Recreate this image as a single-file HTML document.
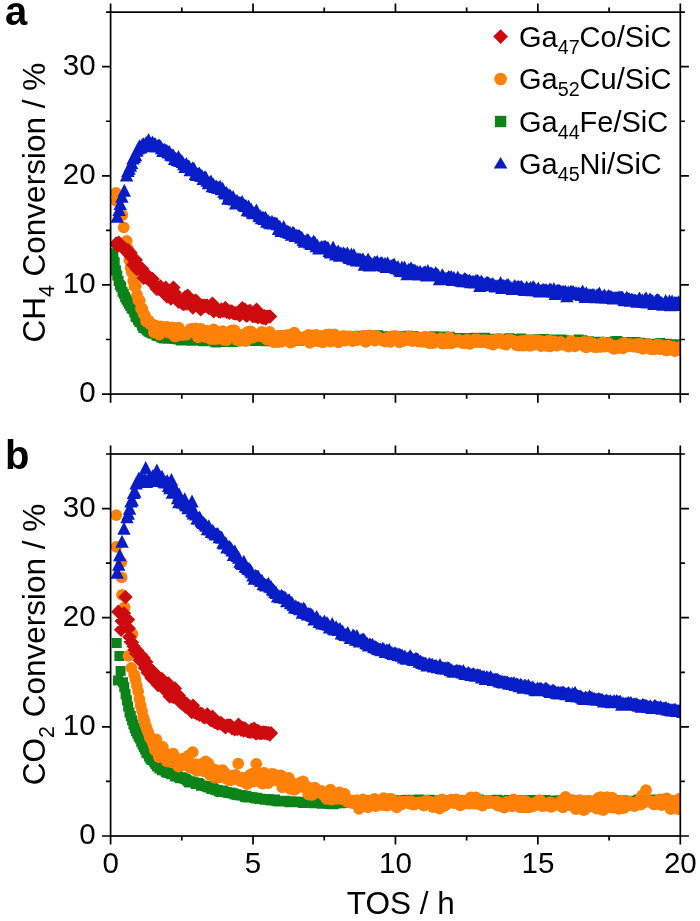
<!DOCTYPE html>
<html><head><meta charset="utf-8"><title>chart</title>
<style>html,body{margin:0;padding:0;background:#fff}svg{display:block;will-change:transform}</style></head>
<body><svg width="700" height="921" viewBox="0 0 700 921" font-family="Liberation Sans, sans-serif" fill="#000"><rect width="700" height="921" fill="#fff"/><defs><clipPath id="ca"><rect x="110.6" y="12.15" width="569.6999999999999" height="381.90000000000003"/></clipPath><clipPath id="cb"><rect x="110.6" y="454.0" width="569.6999999999999" height="382.0"/></clipPath></defs><g clip-path="url(#ca)"><path fill="#0c8318" d="M108.4 248.3h10.0v10.0h-10.0zM109.7 257.2h10.0v10.0h-10.0zM111.0 265.5h10.0v10.0h-10.0zM112.3 270.6h10.0v10.0h-10.0zM113.6 275.9h10.0v10.0h-10.0zM114.9 280.2h10.0v10.0h-10.0zM116.2 282.1h10.0v10.0h-10.0zM117.5 286.7h10.0v10.0h-10.0zM118.8 288.7h10.0v10.0h-10.0zM120.1 292.0h10.0v10.0h-10.0zM121.4 294.5h10.0v10.0h-10.0zM122.7 296.5h10.0v10.0h-10.0zM124.0 298.7h10.0v10.0h-10.0zM125.3 301.0h10.0v10.0h-10.0zM126.6 303.4h10.0v10.0h-10.0zM127.9 304.3h10.0v10.0h-10.0zM129.2 307.6h10.0v10.0h-10.0zM130.5 311.7h10.0v10.0h-10.0zM131.8 312.5h10.0v10.0h-10.0zM133.1 315.1h10.0v10.0h-10.0zM134.4 317.0h10.0v10.0h-10.0zM135.7 317.5h10.0v10.0h-10.0zM137.0 320.6h10.0v10.0h-10.0zM138.3 323.0h10.0v10.0h-10.0zM139.6 322.3h10.0v10.0h-10.0zM140.9 323.8h10.0v10.0h-10.0zM142.2 325.6h10.0v10.0h-10.0zM143.5 326.5h10.0v10.0h-10.0zM144.8 327.3h10.0v10.0h-10.0zM146.1 327.7h10.0v10.0h-10.0zM147.4 328.6h10.0v10.0h-10.0zM148.7 328.7h10.0v10.0h-10.0zM150.0 328.0h10.0v10.0h-10.0zM151.3 330.5h10.0v10.0h-10.0zM152.6 331.1h10.0v10.0h-10.0zM153.9 331.2h10.0v10.0h-10.0zM155.2 330.8h10.0v10.0h-10.0zM156.5 332.7h10.0v10.0h-10.0zM157.8 331.3h10.0v10.0h-10.0zM159.1 333.6h10.0v10.0h-10.0zM160.4 333.5h10.0v10.0h-10.0zM161.7 333.0h10.0v10.0h-10.0zM163.0 333.7h10.0v10.0h-10.0zM164.3 333.7h10.0v10.0h-10.0zM165.6 333.1h10.0v10.0h-10.0zM166.9 333.0h10.0v10.0h-10.0zM168.2 333.6h10.0v10.0h-10.0zM169.5 334.1h10.0v10.0h-10.0zM170.8 333.0h10.0v10.0h-10.0zM172.1 333.9h10.0v10.0h-10.0zM173.4 334.6h10.0v10.0h-10.0zM174.7 333.6h10.0v10.0h-10.0zM176.0 335.4h10.0v10.0h-10.0zM177.3 334.7h10.0v10.0h-10.0zM178.6 334.3h10.0v10.0h-10.0zM179.9 334.9h10.0v10.0h-10.0zM181.2 335.3h10.0v10.0h-10.0zM182.5 334.7h10.0v10.0h-10.0zM183.8 335.4h10.0v10.0h-10.0zM185.1 335.4h10.0v10.0h-10.0zM186.4 335.8h10.0v10.0h-10.0zM187.7 334.0h10.0v10.0h-10.0zM189.0 335.5h10.0v10.0h-10.0zM190.3 334.2h10.0v10.0h-10.0zM191.6 334.8h10.0v10.0h-10.0zM192.9 335.3h10.0v10.0h-10.0zM194.2 334.6h10.0v10.0h-10.0zM195.5 334.9h10.0v10.0h-10.0zM196.8 335.1h10.0v10.0h-10.0zM198.1 336.3h10.0v10.0h-10.0zM199.4 335.2h10.0v10.0h-10.0zM200.7 334.6h10.0v10.0h-10.0zM202.0 334.9h10.0v10.0h-10.0zM203.3 334.5h10.0v10.0h-10.0zM204.6 334.2h10.0v10.0h-10.0zM205.9 335.0h10.0v10.0h-10.0zM207.2 333.9h10.0v10.0h-10.0zM208.5 336.5h10.0v10.0h-10.0zM209.8 335.6h10.0v10.0h-10.0zM211.1 337.4h10.0v10.0h-10.0zM212.4 334.8h10.0v10.0h-10.0zM213.7 335.4h10.0v10.0h-10.0zM215.0 334.2h10.0v10.0h-10.0zM216.3 335.8h10.0v10.0h-10.0zM217.6 337.1h10.0v10.0h-10.0zM218.9 334.6h10.0v10.0h-10.0zM220.2 336.6h10.0v10.0h-10.0zM221.5 336.5h10.0v10.0h-10.0zM222.8 335.7h10.0v10.0h-10.0zM224.1 335.1h10.0v10.0h-10.0zM225.4 336.0h10.0v10.0h-10.0zM226.6 335.4h10.0v10.0h-10.0zM227.9 337.0h10.0v10.0h-10.0zM229.2 334.2h10.0v10.0h-10.0zM230.5 335.6h10.0v10.0h-10.0zM231.8 335.4h10.0v10.0h-10.0zM233.1 335.1h10.0v10.0h-10.0zM234.4 335.4h10.0v10.0h-10.0zM235.7 335.4h10.0v10.0h-10.0zM237.0 336.2h10.0v10.0h-10.0zM238.3 335.6h10.0v10.0h-10.0zM239.6 335.2h10.0v10.0h-10.0zM240.9 334.7h10.0v10.0h-10.0zM242.2 335.6h10.0v10.0h-10.0zM243.5 335.4h10.0v10.0h-10.0zM244.8 335.2h10.0v10.0h-10.0zM246.1 335.0h10.0v10.0h-10.0zM247.4 335.3h10.0v10.0h-10.0zM248.7 335.7h10.0v10.0h-10.0zM250.0 335.9h10.0v10.0h-10.0zM251.3 334.6h10.0v10.0h-10.0zM252.6 335.2h10.0v10.0h-10.0zM253.9 335.4h10.0v10.0h-10.0zM255.2 332.8h10.0v10.0h-10.0zM256.5 334.8h10.0v10.0h-10.0zM257.8 334.8h10.0v10.0h-10.0zM259.1 335.3h10.0v10.0h-10.0zM260.4 336.2h10.0v10.0h-10.0zM261.7 334.6h10.0v10.0h-10.0zM263.0 335.5h10.0v10.0h-10.0zM264.3 335.4h10.0v10.0h-10.0zM265.6 334.6h10.0v10.0h-10.0zM266.9 334.6h10.0v10.0h-10.0zM268.2 335.2h10.0v10.0h-10.0zM269.5 335.4h10.0v10.0h-10.0zM270.8 333.8h10.0v10.0h-10.0zM272.1 334.9h10.0v10.0h-10.0zM273.4 336.2h10.0v10.0h-10.0zM274.7 334.8h10.0v10.0h-10.0zM276.0 335.3h10.0v10.0h-10.0zM277.3 335.3h10.0v10.0h-10.0zM278.6 334.7h10.0v10.0h-10.0zM279.9 335.0h10.0v10.0h-10.0zM281.2 333.6h10.0v10.0h-10.0zM282.5 334.9h10.0v10.0h-10.0zM283.8 334.8h10.0v10.0h-10.0zM285.1 334.1h10.0v10.0h-10.0zM286.4 335.3h10.0v10.0h-10.0zM287.7 334.0h10.0v10.0h-10.0zM289.0 334.8h10.0v10.0h-10.0zM290.3 333.8h10.0v10.0h-10.0zM291.6 335.3h10.0v10.0h-10.0zM292.9 334.2h10.0v10.0h-10.0zM294.2 335.7h10.0v10.0h-10.0zM295.5 334.8h10.0v10.0h-10.0zM296.8 334.3h10.0v10.0h-10.0zM298.1 333.9h10.0v10.0h-10.0zM299.4 332.7h10.0v10.0h-10.0zM300.7 332.8h10.0v10.0h-10.0zM302.0 335.1h10.0v10.0h-10.0zM303.3 334.6h10.0v10.0h-10.0zM304.6 333.0h10.0v10.0h-10.0zM305.9 333.5h10.0v10.0h-10.0zM307.2 334.8h10.0v10.0h-10.0zM308.5 333.3h10.0v10.0h-10.0zM309.8 334.4h10.0v10.0h-10.0zM311.1 334.1h10.0v10.0h-10.0zM312.4 334.3h10.0v10.0h-10.0zM313.7 333.5h10.0v10.0h-10.0zM315.0 331.5h10.0v10.0h-10.0zM316.3 332.8h10.0v10.0h-10.0zM317.6 333.1h10.0v10.0h-10.0zM318.9 331.0h10.0v10.0h-10.0zM320.2 333.1h10.0v10.0h-10.0zM321.5 332.8h10.0v10.0h-10.0zM322.8 332.8h10.0v10.0h-10.0zM324.1 332.2h10.0v10.0h-10.0zM325.4 332.6h10.0v10.0h-10.0zM326.7 331.2h10.0v10.0h-10.0zM328.0 332.4h10.0v10.0h-10.0zM329.3 331.7h10.0v10.0h-10.0zM330.6 331.8h10.0v10.0h-10.0zM331.9 332.5h10.0v10.0h-10.0zM333.2 332.5h10.0v10.0h-10.0zM334.5 331.8h10.0v10.0h-10.0zM335.8 333.5h10.0v10.0h-10.0zM337.1 331.8h10.0v10.0h-10.0zM338.4 331.7h10.0v10.0h-10.0zM339.7 331.7h10.0v10.0h-10.0zM341.0 331.8h10.0v10.0h-10.0zM342.3 331.5h10.0v10.0h-10.0zM343.6 332.0h10.0v10.0h-10.0zM344.9 331.3h10.0v10.0h-10.0zM346.2 333.0h10.0v10.0h-10.0zM347.4 331.1h10.0v10.0h-10.0zM348.7 332.4h10.0v10.0h-10.0zM350.0 331.4h10.0v10.0h-10.0zM351.3 332.1h10.0v10.0h-10.0zM352.6 332.1h10.0v10.0h-10.0zM353.9 332.4h10.0v10.0h-10.0zM355.2 330.7h10.0v10.0h-10.0zM356.5 332.6h10.0v10.0h-10.0zM357.8 332.7h10.0v10.0h-10.0zM359.1 331.6h10.0v10.0h-10.0zM360.4 331.6h10.0v10.0h-10.0zM361.7 331.7h10.0v10.0h-10.0zM363.0 332.5h10.0v10.0h-10.0zM364.3 332.3h10.0v10.0h-10.0zM365.6 331.1h10.0v10.0h-10.0zM366.9 332.6h10.0v10.0h-10.0zM368.2 331.3h10.0v10.0h-10.0zM369.5 331.2h10.0v10.0h-10.0zM370.8 331.7h10.0v10.0h-10.0zM372.1 332.7h10.0v10.0h-10.0zM373.4 330.3h10.0v10.0h-10.0zM374.7 331.7h10.0v10.0h-10.0zM376.0 331.6h10.0v10.0h-10.0zM377.3 332.0h10.0v10.0h-10.0zM378.6 332.5h10.0v10.0h-10.0zM379.9 332.0h10.0v10.0h-10.0zM381.2 331.6h10.0v10.0h-10.0zM382.5 332.4h10.0v10.0h-10.0zM383.8 331.7h10.0v10.0h-10.0zM385.1 330.9h10.0v10.0h-10.0zM386.4 331.4h10.0v10.0h-10.0zM387.7 331.8h10.0v10.0h-10.0zM389.0 331.0h10.0v10.0h-10.0zM390.3 331.1h10.0v10.0h-10.0zM391.6 331.1h10.0v10.0h-10.0zM392.9 332.4h10.0v10.0h-10.0zM394.2 333.2h10.0v10.0h-10.0zM395.5 331.3h10.0v10.0h-10.0zM396.8 331.9h10.0v10.0h-10.0zM398.1 332.2h10.0v10.0h-10.0zM399.4 331.6h10.0v10.0h-10.0zM400.7 332.4h10.0v10.0h-10.0zM402.0 332.5h10.0v10.0h-10.0zM403.3 330.7h10.0v10.0h-10.0zM404.6 333.3h10.0v10.0h-10.0zM405.9 331.5h10.0v10.0h-10.0zM407.2 331.4h10.0v10.0h-10.0zM408.5 330.9h10.0v10.0h-10.0zM409.8 332.1h10.0v10.0h-10.0zM411.1 331.9h10.0v10.0h-10.0zM412.4 333.0h10.0v10.0h-10.0zM413.7 332.3h10.0v10.0h-10.0zM415.0 334.0h10.0v10.0h-10.0zM416.3 332.8h10.0v10.0h-10.0zM417.6 332.5h10.0v10.0h-10.0zM418.9 332.6h10.0v10.0h-10.0zM420.2 332.9h10.0v10.0h-10.0zM421.5 331.7h10.0v10.0h-10.0zM422.8 333.8h10.0v10.0h-10.0zM424.1 332.5h10.0v10.0h-10.0zM425.4 332.9h10.0v10.0h-10.0zM426.7 332.6h10.0v10.0h-10.0zM428.0 332.7h10.0v10.0h-10.0zM429.3 331.3h10.0v10.0h-10.0zM430.6 333.6h10.0v10.0h-10.0zM431.9 331.8h10.0v10.0h-10.0zM433.2 331.8h10.0v10.0h-10.0zM434.5 333.0h10.0v10.0h-10.0zM435.8 333.4h10.0v10.0h-10.0zM437.1 333.9h10.0v10.0h-10.0zM438.4 333.6h10.0v10.0h-10.0zM439.7 331.4h10.0v10.0h-10.0zM441.0 334.7h10.0v10.0h-10.0zM442.3 332.7h10.0v10.0h-10.0zM443.6 333.6h10.0v10.0h-10.0zM444.9 331.7h10.0v10.0h-10.0zM446.2 332.9h10.0v10.0h-10.0zM447.5 334.2h10.0v10.0h-10.0zM448.8 333.6h10.0v10.0h-10.0zM450.1 333.1h10.0v10.0h-10.0zM451.4 333.2h10.0v10.0h-10.0zM452.7 334.1h10.0v10.0h-10.0zM454.0 333.6h10.0v10.0h-10.0zM455.3 333.8h10.0v10.0h-10.0zM456.6 333.1h10.0v10.0h-10.0zM457.9 333.3h10.0v10.0h-10.0zM459.2 333.3h10.0v10.0h-10.0zM460.5 334.0h10.0v10.0h-10.0zM461.8 333.0h10.0v10.0h-10.0zM463.1 334.1h10.0v10.0h-10.0zM464.4 334.3h10.0v10.0h-10.0zM465.7 334.0h10.0v10.0h-10.0zM466.9 334.0h10.0v10.0h-10.0zM468.2 334.0h10.0v10.0h-10.0zM469.5 335.3h10.0v10.0h-10.0zM470.8 332.8h10.0v10.0h-10.0zM472.1 333.4h10.0v10.0h-10.0zM473.4 332.9h10.0v10.0h-10.0zM474.7 334.3h10.0v10.0h-10.0zM476.0 333.4h10.0v10.0h-10.0zM477.3 333.9h10.0v10.0h-10.0zM478.6 334.1h10.0v10.0h-10.0zM479.9 332.8h10.0v10.0h-10.0zM481.2 334.6h10.0v10.0h-10.0zM482.5 333.8h10.0v10.0h-10.0zM483.8 335.5h10.0v10.0h-10.0zM485.1 333.8h10.0v10.0h-10.0zM486.4 334.4h10.0v10.0h-10.0zM487.7 335.1h10.0v10.0h-10.0zM489.0 334.8h10.0v10.0h-10.0zM490.3 336.0h10.0v10.0h-10.0zM491.6 335.3h10.0v10.0h-10.0zM492.9 334.4h10.0v10.0h-10.0zM494.2 336.5h10.0v10.0h-10.0zM495.5 333.7h10.0v10.0h-10.0zM496.8 333.9h10.0v10.0h-10.0zM498.1 335.2h10.0v10.0h-10.0zM499.4 335.8h10.0v10.0h-10.0zM500.7 335.8h10.0v10.0h-10.0zM502.0 335.7h10.0v10.0h-10.0zM503.3 335.4h10.0v10.0h-10.0zM504.6 333.2h10.0v10.0h-10.0zM505.9 335.7h10.0v10.0h-10.0zM507.2 334.3h10.0v10.0h-10.0zM508.5 334.0h10.0v10.0h-10.0zM509.8 335.7h10.0v10.0h-10.0zM511.1 335.2h10.0v10.0h-10.0zM512.4 334.5h10.0v10.0h-10.0zM513.7 335.6h10.0v10.0h-10.0zM515.0 334.2h10.0v10.0h-10.0zM516.3 333.5h10.0v10.0h-10.0zM517.6 335.2h10.0v10.0h-10.0zM518.9 335.9h10.0v10.0h-10.0zM520.2 334.8h10.0v10.0h-10.0zM521.5 335.1h10.0v10.0h-10.0zM522.8 335.9h10.0v10.0h-10.0zM524.1 335.5h10.0v10.0h-10.0zM525.4 335.4h10.0v10.0h-10.0zM526.7 335.1h10.0v10.0h-10.0zM528.0 334.6h10.0v10.0h-10.0zM529.3 335.9h10.0v10.0h-10.0zM530.6 336.6h10.0v10.0h-10.0zM531.9 336.8h10.0v10.0h-10.0zM533.2 334.2h10.0v10.0h-10.0zM534.5 336.0h10.0v10.0h-10.0zM535.8 336.0h10.0v10.0h-10.0zM537.1 333.9h10.0v10.0h-10.0zM538.4 334.9h10.0v10.0h-10.0zM539.7 334.1h10.0v10.0h-10.0zM541.0 336.0h10.0v10.0h-10.0zM542.3 336.4h10.0v10.0h-10.0zM543.6 336.3h10.0v10.0h-10.0zM544.9 335.5h10.0v10.0h-10.0zM546.2 335.7h10.0v10.0h-10.0zM547.5 335.8h10.0v10.0h-10.0zM548.8 334.4h10.0v10.0h-10.0zM550.1 335.1h10.0v10.0h-10.0zM551.4 337.0h10.0v10.0h-10.0zM552.7 335.9h10.0v10.0h-10.0zM554.0 335.8h10.0v10.0h-10.0zM555.3 336.8h10.0v10.0h-10.0zM556.6 334.6h10.0v10.0h-10.0zM557.9 335.7h10.0v10.0h-10.0zM559.2 335.2h10.0v10.0h-10.0zM560.5 336.8h10.0v10.0h-10.0zM561.8 337.3h10.0v10.0h-10.0zM563.1 335.9h10.0v10.0h-10.0zM564.4 336.7h10.0v10.0h-10.0zM565.7 337.0h10.0v10.0h-10.0zM567.0 336.7h10.0v10.0h-10.0zM568.3 336.5h10.0v10.0h-10.0zM569.6 336.6h10.0v10.0h-10.0zM570.9 336.9h10.0v10.0h-10.0zM572.2 336.4h10.0v10.0h-10.0zM573.5 334.6h10.0v10.0h-10.0zM574.8 335.9h10.0v10.0h-10.0zM576.1 337.2h10.0v10.0h-10.0zM577.4 335.3h10.0v10.0h-10.0zM578.7 337.3h10.0v10.0h-10.0zM580.0 338.1h10.0v10.0h-10.0zM581.3 338.0h10.0v10.0h-10.0zM582.6 338.6h10.0v10.0h-10.0zM583.9 336.2h10.0v10.0h-10.0zM585.2 337.9h10.0v10.0h-10.0zM586.4 338.2h10.0v10.0h-10.0zM587.7 337.6h10.0v10.0h-10.0zM589.0 337.4h10.0v10.0h-10.0zM590.3 338.2h10.0v10.0h-10.0zM591.6 337.7h10.0v10.0h-10.0zM592.9 337.3h10.0v10.0h-10.0zM594.2 336.8h10.0v10.0h-10.0zM595.5 338.1h10.0v10.0h-10.0zM596.8 337.0h10.0v10.0h-10.0zM598.1 337.3h10.0v10.0h-10.0zM599.4 337.1h10.0v10.0h-10.0zM600.7 337.9h10.0v10.0h-10.0zM602.0 338.4h10.0v10.0h-10.0zM603.3 336.9h10.0v10.0h-10.0zM604.6 337.2h10.0v10.0h-10.0zM605.9 338.2h10.0v10.0h-10.0zM607.2 338.3h10.0v10.0h-10.0zM608.5 337.2h10.0v10.0h-10.0zM609.8 336.2h10.0v10.0h-10.0zM611.1 337.5h10.0v10.0h-10.0zM612.4 335.9h10.0v10.0h-10.0zM613.7 337.6h10.0v10.0h-10.0zM615.0 337.6h10.0v10.0h-10.0zM616.3 337.6h10.0v10.0h-10.0zM617.6 337.1h10.0v10.0h-10.0zM618.9 339.2h10.0v10.0h-10.0zM620.2 338.0h10.0v10.0h-10.0zM621.5 337.2h10.0v10.0h-10.0zM622.8 339.4h10.0v10.0h-10.0zM624.1 338.1h10.0v10.0h-10.0zM625.4 337.7h10.0v10.0h-10.0zM626.7 337.0h10.0v10.0h-10.0zM628.0 337.2h10.0v10.0h-10.0zM629.3 338.5h10.0v10.0h-10.0zM630.6 336.9h10.0v10.0h-10.0zM631.9 339.4h10.0v10.0h-10.0zM633.2 339.7h10.0v10.0h-10.0zM634.5 337.7h10.0v10.0h-10.0zM635.8 338.2h10.0v10.0h-10.0zM637.1 339.7h10.0v10.0h-10.0zM638.4 338.0h10.0v10.0h-10.0zM639.7 338.3h10.0v10.0h-10.0zM641.0 338.4h10.0v10.0h-10.0zM642.3 339.4h10.0v10.0h-10.0zM643.6 340.1h10.0v10.0h-10.0zM644.9 340.5h10.0v10.0h-10.0zM646.2 339.4h10.0v10.0h-10.0zM647.5 339.4h10.0v10.0h-10.0zM648.8 339.7h10.0v10.0h-10.0zM650.1 339.8h10.0v10.0h-10.0zM651.4 338.7h10.0v10.0h-10.0zM652.7 340.4h10.0v10.0h-10.0zM654.0 340.1h10.0v10.0h-10.0zM655.3 338.1h10.0v10.0h-10.0zM656.6 340.2h10.0v10.0h-10.0zM657.9 340.2h10.0v10.0h-10.0zM659.2 339.0h10.0v10.0h-10.0zM660.5 341.2h10.0v10.0h-10.0zM661.8 338.7h10.0v10.0h-10.0zM663.1 340.9h10.0v10.0h-10.0zM664.4 340.7h10.0v10.0h-10.0zM665.7 341.1h10.0v10.0h-10.0zM667.0 340.9h10.0v10.0h-10.0zM668.3 340.8h10.0v10.0h-10.0zM669.6 339.5h10.0v10.0h-10.0zM670.9 340.4h10.0v10.0h-10.0zM672.2 339.3h10.0v10.0h-10.0zM673.5 339.8h10.0v10.0h-10.0zM674.8 341.4h10.0v10.0h-10.0zM676.1 340.5h10.0v10.0h-10.0zM677.4 341.0h10.0v10.0h-10.0z"/><g fill="#ff8108"><circle cx="116.0" cy="193.0" r="5.9"/><circle cx="116.3" cy="200.9" r="5.9"/><circle cx="122.3" cy="215.1" r="5.9"/><circle cx="123.7" cy="227.3" r="5.9"/><circle cx="126.7" cy="240.8" r="5.9"/><circle cx="128.0" cy="248.8" r="5.9"/><circle cx="129.3" cy="259.9" r="5.9"/><circle cx="130.6" cy="267.5" r="5.9"/><circle cx="131.9" cy="272.4" r="5.9"/><circle cx="133.2" cy="281.0" r="5.9"/><circle cx="134.5" cy="286.3" r="5.9"/><circle cx="135.8" cy="285.9" r="5.9"/><circle cx="137.1" cy="295.0" r="5.9"/><circle cx="138.4" cy="300.4" r="5.9"/><circle cx="139.7" cy="300.7" r="5.9"/><circle cx="141.0" cy="308.5" r="5.9"/><circle cx="142.3" cy="308.8" r="5.9"/><circle cx="143.6" cy="313.8" r="5.9"/><circle cx="144.9" cy="315.4" r="5.9"/><circle cx="146.2" cy="321.3" r="5.9"/><circle cx="147.5" cy="320.8" r="5.9"/><circle cx="148.8" cy="320.7" r="5.9"/><circle cx="150.1" cy="324.2" r="5.9"/><circle cx="151.4" cy="324.0" r="5.9"/><circle cx="152.7" cy="325.7" r="5.9"/><circle cx="154.0" cy="332.3" r="5.9"/><circle cx="155.3" cy="325.5" r="5.9"/><circle cx="156.6" cy="327.8" r="5.9"/><circle cx="157.9" cy="331.3" r="5.9"/><circle cx="159.2" cy="334.6" r="5.9"/><circle cx="160.5" cy="326.4" r="5.9"/><circle cx="161.8" cy="331.0" r="5.9"/><circle cx="163.1" cy="328.6" r="5.9"/><circle cx="164.4" cy="327.1" r="5.9"/><circle cx="165.7" cy="328.9" r="5.9"/><circle cx="167.0" cy="326.9" r="5.9"/><circle cx="168.3" cy="332.6" r="5.9"/><circle cx="169.6" cy="328.5" r="5.9"/><circle cx="170.9" cy="332.3" r="5.9"/><circle cx="172.2" cy="327.3" r="5.9"/><circle cx="173.5" cy="328.1" r="5.9"/><circle cx="174.8" cy="336.4" r="5.9"/><circle cx="176.1" cy="336.1" r="5.9"/><circle cx="177.4" cy="335.4" r="5.9"/><circle cx="178.7" cy="327.7" r="5.9"/><circle cx="179.9" cy="333.4" r="5.9"/><circle cx="181.2" cy="331.6" r="5.9"/><circle cx="182.5" cy="335.1" r="5.9"/><circle cx="183.8" cy="333.0" r="5.9"/><circle cx="185.1" cy="334.3" r="5.9"/><circle cx="186.4" cy="334.7" r="5.9"/><circle cx="187.7" cy="332.4" r="5.9"/><circle cx="189.0" cy="332.4" r="5.9"/><circle cx="190.3" cy="329.1" r="5.9"/><circle cx="191.6" cy="331.5" r="5.9"/><circle cx="192.9" cy="329.0" r="5.9"/><circle cx="194.2" cy="329.8" r="5.9"/><circle cx="195.5" cy="328.5" r="5.9"/><circle cx="196.8" cy="331.9" r="5.9"/><circle cx="198.1" cy="337.3" r="5.9"/><circle cx="199.4" cy="330.1" r="5.9"/><circle cx="200.7" cy="329.0" r="5.9"/><circle cx="202.0" cy="329.7" r="5.9"/><circle cx="203.3" cy="333.3" r="5.9"/><circle cx="204.6" cy="331.9" r="5.9"/><circle cx="205.9" cy="337.2" r="5.9"/><circle cx="207.2" cy="330.8" r="5.9"/><circle cx="208.5" cy="333.5" r="5.9"/><circle cx="209.8" cy="336.6" r="5.9"/><circle cx="211.1" cy="339.0" r="5.9"/><circle cx="212.4" cy="330.8" r="5.9"/><circle cx="213.7" cy="329.4" r="5.9"/><circle cx="215.0" cy="339.0" r="5.9"/><circle cx="216.3" cy="331.6" r="5.9"/><circle cx="217.6" cy="335.7" r="5.9"/><circle cx="218.9" cy="338.5" r="5.9"/><circle cx="220.2" cy="337.1" r="5.9"/><circle cx="221.5" cy="332.2" r="5.9"/><circle cx="222.8" cy="331.1" r="5.9"/><circle cx="224.1" cy="339.9" r="5.9"/><circle cx="225.4" cy="334.0" r="5.9"/><circle cx="226.7" cy="340.0" r="5.9"/><circle cx="228.0" cy="333.0" r="5.9"/><circle cx="229.3" cy="337.1" r="5.9"/><circle cx="230.6" cy="331.4" r="5.9"/><circle cx="231.9" cy="330.4" r="5.9"/><circle cx="233.2" cy="335.4" r="5.9"/><circle cx="234.5" cy="330.3" r="5.9"/><circle cx="235.8" cy="337.6" r="5.9"/><circle cx="237.1" cy="340.0" r="5.9"/><circle cx="238.4" cy="334.6" r="5.9"/><circle cx="239.7" cy="340.6" r="5.9"/><circle cx="241.0" cy="338.9" r="5.9"/><circle cx="242.3" cy="336.8" r="5.9"/><circle cx="243.6" cy="334.7" r="5.9"/><circle cx="244.9" cy="339.5" r="5.9"/><circle cx="246.2" cy="340.8" r="5.9"/><circle cx="247.5" cy="332.2" r="5.9"/><circle cx="248.8" cy="338.0" r="5.9"/><circle cx="250.1" cy="331.3" r="5.9"/><circle cx="251.4" cy="332.0" r="5.9"/><circle cx="252.7" cy="337.5" r="5.9"/><circle cx="254.0" cy="336.7" r="5.9"/><circle cx="255.3" cy="336.1" r="5.9"/><circle cx="256.6" cy="334.8" r="5.9"/><circle cx="257.9" cy="335.4" r="5.9"/><circle cx="259.2" cy="335.8" r="5.9"/><circle cx="260.5" cy="335.2" r="5.9"/><circle cx="261.8" cy="331.9" r="5.9"/><circle cx="263.1" cy="336.5" r="5.9"/><circle cx="264.4" cy="337.4" r="5.9"/><circle cx="265.7" cy="334.4" r="5.9"/><circle cx="267.0" cy="339.5" r="5.9"/><circle cx="268.3" cy="338.9" r="5.9"/><circle cx="269.6" cy="331.8" r="5.9"/><circle cx="270.9" cy="336.7" r="5.9"/><circle cx="272.2" cy="336.4" r="5.9"/><circle cx="273.5" cy="342.1" r="5.9"/><circle cx="274.8" cy="337.9" r="5.9"/><circle cx="276.1" cy="336.3" r="5.9"/><circle cx="277.4" cy="342.2" r="5.9"/><circle cx="278.7" cy="336.0" r="5.9"/><circle cx="280.0" cy="335.9" r="5.9"/><circle cx="281.3" cy="341.9" r="5.9"/><circle cx="282.6" cy="336.0" r="5.9"/><circle cx="283.9" cy="337.7" r="5.9"/><circle cx="285.2" cy="335.5" r="5.9"/><circle cx="286.5" cy="338.9" r="5.9"/><circle cx="287.8" cy="335.3" r="5.9"/><circle cx="289.1" cy="335.0" r="5.9"/><circle cx="290.4" cy="342.5" r="5.9"/><circle cx="291.7" cy="342.1" r="5.9"/><circle cx="293.0" cy="335.7" r="5.9"/><circle cx="294.3" cy="332.7" r="5.9"/><circle cx="295.6" cy="340.2" r="5.9"/><circle cx="296.9" cy="338.1" r="5.9"/><circle cx="298.2" cy="336.7" r="5.9"/><circle cx="299.4" cy="339.5" r="5.9"/><circle cx="300.7" cy="339.1" r="5.9"/><circle cx="302.0" cy="339.7" r="5.9"/><circle cx="303.3" cy="339.1" r="5.9"/><circle cx="304.6" cy="336.8" r="5.9"/><circle cx="305.9" cy="339.9" r="5.9"/><circle cx="307.2" cy="339.1" r="5.9"/><circle cx="308.5" cy="335.0" r="5.9"/><circle cx="309.8" cy="342.8" r="5.9"/><circle cx="311.1" cy="337.2" r="5.9"/><circle cx="312.4" cy="335.4" r="5.9"/><circle cx="313.7" cy="339.9" r="5.9"/><circle cx="315.0" cy="340.9" r="5.9"/><circle cx="316.3" cy="334.8" r="5.9"/><circle cx="317.6" cy="340.7" r="5.9"/><circle cx="318.9" cy="341.3" r="5.9"/><circle cx="320.2" cy="338.7" r="5.9"/><circle cx="321.5" cy="336.0" r="5.9"/><circle cx="322.8" cy="342.3" r="5.9"/><circle cx="324.1" cy="340.0" r="5.9"/><circle cx="325.4" cy="339.9" r="5.9"/><circle cx="326.7" cy="334.7" r="5.9"/><circle cx="328.0" cy="338.8" r="5.9"/><circle cx="329.3" cy="334.5" r="5.9"/><circle cx="330.6" cy="341.7" r="5.9"/><circle cx="331.9" cy="340.0" r="5.9"/><circle cx="333.2" cy="336.7" r="5.9"/><circle cx="334.5" cy="334.3" r="5.9"/><circle cx="335.8" cy="338.9" r="5.9"/><circle cx="337.1" cy="341.3" r="5.9"/><circle cx="338.4" cy="342.4" r="5.9"/><circle cx="339.7" cy="338.2" r="5.9"/><circle cx="341.0" cy="340.5" r="5.9"/><circle cx="342.3" cy="336.4" r="5.9"/><circle cx="343.6" cy="336.2" r="5.9"/><circle cx="344.9" cy="340.5" r="5.9"/><circle cx="346.2" cy="339.9" r="5.9"/><circle cx="347.5" cy="336.5" r="5.9"/><circle cx="348.8" cy="337.6" r="5.9"/><circle cx="350.1" cy="336.5" r="5.9"/><circle cx="351.4" cy="339.5" r="5.9"/><circle cx="352.7" cy="341.0" r="5.9"/><circle cx="354.0" cy="339.9" r="5.9"/><circle cx="355.3" cy="336.6" r="5.9"/><circle cx="356.6" cy="340.1" r="5.9"/><circle cx="357.9" cy="339.6" r="5.9"/><circle cx="359.2" cy="339.1" r="5.9"/><circle cx="360.5" cy="339.1" r="5.9"/><circle cx="361.8" cy="339.2" r="5.9"/><circle cx="363.1" cy="335.9" r="5.9"/><circle cx="364.4" cy="340.9" r="5.9"/><circle cx="365.7" cy="341.9" r="5.9"/><circle cx="367.0" cy="335.8" r="5.9"/><circle cx="368.3" cy="336.2" r="5.9"/><circle cx="369.6" cy="335.5" r="5.9"/><circle cx="370.9" cy="339.1" r="5.9"/><circle cx="372.2" cy="335.8" r="5.9"/><circle cx="373.5" cy="335.9" r="5.9"/><circle cx="374.8" cy="340.6" r="5.9"/><circle cx="376.1" cy="337.2" r="5.9"/><circle cx="377.4" cy="336.6" r="5.9"/><circle cx="378.7" cy="337.7" r="5.9"/><circle cx="380.0" cy="338.7" r="5.9"/><circle cx="381.3" cy="340.2" r="5.9"/><circle cx="382.6" cy="339.9" r="5.9"/><circle cx="383.9" cy="340.6" r="5.9"/><circle cx="385.2" cy="341.7" r="5.9"/><circle cx="386.5" cy="338.3" r="5.9"/><circle cx="387.8" cy="340.3" r="5.9"/><circle cx="389.1" cy="336.9" r="5.9"/><circle cx="390.4" cy="341.9" r="5.9"/><circle cx="391.7" cy="336.3" r="5.9"/><circle cx="393.0" cy="337.7" r="5.9"/><circle cx="394.3" cy="336.2" r="5.9"/><circle cx="395.6" cy="336.4" r="5.9"/><circle cx="396.9" cy="336.4" r="5.9"/><circle cx="398.2" cy="338.5" r="5.9"/><circle cx="399.5" cy="342.3" r="5.9"/><circle cx="400.8" cy="337.5" r="5.9"/><circle cx="402.1" cy="341.3" r="5.9"/><circle cx="403.4" cy="340.5" r="5.9"/><circle cx="404.7" cy="338.1" r="5.9"/><circle cx="406.0" cy="339.1" r="5.9"/><circle cx="407.3" cy="339.9" r="5.9"/><circle cx="408.6" cy="336.4" r="5.9"/><circle cx="409.9" cy="338.6" r="5.9"/><circle cx="411.2" cy="340.4" r="5.9"/><circle cx="412.5" cy="341.1" r="5.9"/><circle cx="413.8" cy="337.1" r="5.9"/><circle cx="415.1" cy="339.7" r="5.9"/><circle cx="416.4" cy="337.7" r="5.9"/><circle cx="417.7" cy="340.6" r="5.9"/><circle cx="419.0" cy="341.6" r="5.9"/><circle cx="420.2" cy="339.4" r="5.9"/><circle cx="421.5" cy="337.6" r="5.9"/><circle cx="422.8" cy="341.9" r="5.9"/><circle cx="424.1" cy="337.9" r="5.9"/><circle cx="425.4" cy="337.0" r="5.9"/><circle cx="426.7" cy="337.8" r="5.9"/><circle cx="428.0" cy="337.8" r="5.9"/><circle cx="429.3" cy="343.1" r="5.9"/><circle cx="430.6" cy="339.1" r="5.9"/><circle cx="431.9" cy="337.6" r="5.9"/><circle cx="433.2" cy="343.0" r="5.9"/><circle cx="434.5" cy="341.6" r="5.9"/><circle cx="435.8" cy="341.6" r="5.9"/><circle cx="437.1" cy="340.0" r="5.9"/><circle cx="438.4" cy="340.7" r="5.9"/><circle cx="439.7" cy="340.4" r="5.9"/><circle cx="441.0" cy="338.4" r="5.9"/><circle cx="442.3" cy="343.6" r="5.9"/><circle cx="443.6" cy="343.2" r="5.9"/><circle cx="444.9" cy="342.8" r="5.9"/><circle cx="446.2" cy="342.9" r="5.9"/><circle cx="447.5" cy="343.3" r="5.9"/><circle cx="448.8" cy="337.4" r="5.9"/><circle cx="450.1" cy="338.2" r="5.9"/><circle cx="451.4" cy="343.3" r="5.9"/><circle cx="452.7" cy="340.6" r="5.9"/><circle cx="454.0" cy="341.8" r="5.9"/><circle cx="455.3" cy="341.9" r="5.9"/><circle cx="456.6" cy="341.7" r="5.9"/><circle cx="457.9" cy="339.8" r="5.9"/><circle cx="459.2" cy="340.2" r="5.9"/><circle cx="460.5" cy="341.7" r="5.9"/><circle cx="461.8" cy="342.9" r="5.9"/><circle cx="463.1" cy="342.0" r="5.9"/><circle cx="464.4" cy="343.4" r="5.9"/><circle cx="465.7" cy="340.6" r="5.9"/><circle cx="467.0" cy="339.6" r="5.9"/><circle cx="468.3" cy="341.8" r="5.9"/><circle cx="469.6" cy="343.8" r="5.9"/><circle cx="470.9" cy="343.2" r="5.9"/><circle cx="472.2" cy="342.0" r="5.9"/><circle cx="473.5" cy="340.5" r="5.9"/><circle cx="474.8" cy="339.4" r="5.9"/><circle cx="476.1" cy="342.0" r="5.9"/><circle cx="477.4" cy="339.3" r="5.9"/><circle cx="478.7" cy="340.5" r="5.9"/><circle cx="480.0" cy="341.8" r="5.9"/><circle cx="481.3" cy="342.2" r="5.9"/><circle cx="482.6" cy="341.5" r="5.9"/><circle cx="483.9" cy="340.2" r="5.9"/><circle cx="485.2" cy="342.0" r="5.9"/><circle cx="486.5" cy="340.3" r="5.9"/><circle cx="487.8" cy="341.9" r="5.9"/><circle cx="489.1" cy="343.3" r="5.9"/><circle cx="490.4" cy="341.4" r="5.9"/><circle cx="491.7" cy="340.4" r="5.9"/><circle cx="493.0" cy="344.6" r="5.9"/><circle cx="494.3" cy="342.3" r="5.9"/><circle cx="495.6" cy="342.3" r="5.9"/><circle cx="496.9" cy="339.4" r="5.9"/><circle cx="498.2" cy="339.0" r="5.9"/><circle cx="499.5" cy="342.8" r="5.9"/><circle cx="500.8" cy="339.4" r="5.9"/><circle cx="502.1" cy="340.1" r="5.9"/><circle cx="503.4" cy="343.6" r="5.9"/><circle cx="504.7" cy="342.3" r="5.9"/><circle cx="506.0" cy="344.6" r="5.9"/><circle cx="507.3" cy="340.1" r="5.9"/><circle cx="508.6" cy="341.1" r="5.9"/><circle cx="509.9" cy="339.7" r="5.9"/><circle cx="511.2" cy="340.4" r="5.9"/><circle cx="512.5" cy="341.2" r="5.9"/><circle cx="513.8" cy="340.8" r="5.9"/><circle cx="515.1" cy="342.0" r="5.9"/><circle cx="516.4" cy="345.0" r="5.9"/><circle cx="517.7" cy="341.9" r="5.9"/><circle cx="519.0" cy="345.7" r="5.9"/><circle cx="520.3" cy="344.9" r="5.9"/><circle cx="521.6" cy="340.8" r="5.9"/><circle cx="522.9" cy="345.6" r="5.9"/><circle cx="524.2" cy="345.3" r="5.9"/><circle cx="525.5" cy="345.3" r="5.9"/><circle cx="526.8" cy="340.2" r="5.9"/><circle cx="528.1" cy="344.9" r="5.9"/><circle cx="529.4" cy="345.9" r="5.9"/><circle cx="530.7" cy="340.6" r="5.9"/><circle cx="532.0" cy="345.3" r="5.9"/><circle cx="533.3" cy="340.7" r="5.9"/><circle cx="534.6" cy="341.8" r="5.9"/><circle cx="535.9" cy="340.8" r="5.9"/><circle cx="537.2" cy="340.1" r="5.9"/><circle cx="538.5" cy="342.5" r="5.9"/><circle cx="539.7" cy="341.1" r="5.9"/><circle cx="541.0" cy="346.2" r="5.9"/><circle cx="542.3" cy="341.4" r="5.9"/><circle cx="543.6" cy="343.1" r="5.9"/><circle cx="544.9" cy="341.8" r="5.9"/><circle cx="546.2" cy="345.9" r="5.9"/><circle cx="547.5" cy="341.7" r="5.9"/><circle cx="548.8" cy="340.5" r="5.9"/><circle cx="550.1" cy="346.3" r="5.9"/><circle cx="551.4" cy="344.6" r="5.9"/><circle cx="552.7" cy="343.0" r="5.9"/><circle cx="554.0" cy="341.4" r="5.9"/><circle cx="555.3" cy="345.2" r="5.9"/><circle cx="556.6" cy="345.7" r="5.9"/><circle cx="557.9" cy="345.3" r="5.9"/><circle cx="559.2" cy="342.9" r="5.9"/><circle cx="560.5" cy="342.0" r="5.9"/><circle cx="561.8" cy="344.4" r="5.9"/><circle cx="563.1" cy="344.6" r="5.9"/><circle cx="564.4" cy="344.5" r="5.9"/><circle cx="565.7" cy="344.8" r="5.9"/><circle cx="567.0" cy="344.4" r="5.9"/><circle cx="568.3" cy="346.7" r="5.9"/><circle cx="569.6" cy="344.0" r="5.9"/><circle cx="570.9" cy="340.9" r="5.9"/><circle cx="572.2" cy="344.7" r="5.9"/><circle cx="573.5" cy="342.5" r="5.9"/><circle cx="574.8" cy="346.4" r="5.9"/><circle cx="576.1" cy="343.0" r="5.9"/><circle cx="577.4" cy="342.6" r="5.9"/><circle cx="578.7" cy="343.2" r="5.9"/><circle cx="580.0" cy="344.3" r="5.9"/><circle cx="581.3" cy="344.5" r="5.9"/><circle cx="582.6" cy="343.5" r="5.9"/><circle cx="583.9" cy="341.9" r="5.9"/><circle cx="585.2" cy="346.9" r="5.9"/><circle cx="586.5" cy="347.3" r="5.9"/><circle cx="587.8" cy="343.1" r="5.9"/><circle cx="589.1" cy="342.0" r="5.9"/><circle cx="590.4" cy="344.7" r="5.9"/><circle cx="591.7" cy="345.2" r="5.9"/><circle cx="593.0" cy="343.4" r="5.9"/><circle cx="594.3" cy="347.0" r="5.9"/><circle cx="595.6" cy="346.5" r="5.9"/><circle cx="596.9" cy="347.0" r="5.9"/><circle cx="598.2" cy="344.5" r="5.9"/><circle cx="599.5" cy="346.3" r="5.9"/><circle cx="600.8" cy="346.9" r="5.9"/><circle cx="602.1" cy="344.0" r="5.9"/><circle cx="603.4" cy="342.3" r="5.9"/><circle cx="604.7" cy="346.7" r="5.9"/><circle cx="606.0" cy="344.0" r="5.9"/><circle cx="607.3" cy="346.0" r="5.9"/><circle cx="608.6" cy="343.2" r="5.9"/><circle cx="609.9" cy="345.0" r="5.9"/><circle cx="611.2" cy="347.1" r="5.9"/><circle cx="612.5" cy="347.5" r="5.9"/><circle cx="613.8" cy="348.8" r="5.9"/><circle cx="615.1" cy="345.9" r="5.9"/><circle cx="616.4" cy="346.5" r="5.9"/><circle cx="617.7" cy="348.0" r="5.9"/><circle cx="619.0" cy="346.8" r="5.9"/><circle cx="620.3" cy="347.1" r="5.9"/><circle cx="621.6" cy="344.2" r="5.9"/><circle cx="622.9" cy="348.4" r="5.9"/><circle cx="624.2" cy="342.9" r="5.9"/><circle cx="625.5" cy="346.3" r="5.9"/><circle cx="626.8" cy="345.5" r="5.9"/><circle cx="628.1" cy="346.4" r="5.9"/><circle cx="629.4" cy="344.1" r="5.9"/><circle cx="630.7" cy="344.2" r="5.9"/><circle cx="632.0" cy="346.0" r="5.9"/><circle cx="633.3" cy="346.5" r="5.9"/><circle cx="634.6" cy="345.0" r="5.9"/><circle cx="635.9" cy="344.2" r="5.9"/><circle cx="637.2" cy="347.2" r="5.9"/><circle cx="638.5" cy="345.1" r="5.9"/><circle cx="639.8" cy="343.7" r="5.9"/><circle cx="641.1" cy="346.9" r="5.9"/><circle cx="642.4" cy="348.5" r="5.9"/><circle cx="643.7" cy="348.6" r="5.9"/><circle cx="645.0" cy="345.4" r="5.9"/><circle cx="646.3" cy="345.8" r="5.9"/><circle cx="647.6" cy="344.0" r="5.9"/><circle cx="648.9" cy="344.7" r="5.9"/><circle cx="650.2" cy="348.8" r="5.9"/><circle cx="651.5" cy="349.1" r="5.9"/><circle cx="652.8" cy="348.7" r="5.9"/><circle cx="654.1" cy="349.3" r="5.9"/><circle cx="655.4" cy="345.9" r="5.9"/><circle cx="656.7" cy="345.0" r="5.9"/><circle cx="658.0" cy="344.7" r="5.9"/><circle cx="659.2" cy="349.0" r="5.9"/><circle cx="660.5" cy="345.1" r="5.9"/><circle cx="661.8" cy="348.7" r="5.9"/><circle cx="663.1" cy="348.1" r="5.9"/><circle cx="664.4" cy="346.1" r="5.9"/><circle cx="665.7" cy="350.4" r="5.9"/><circle cx="667.0" cy="350.4" r="5.9"/><circle cx="668.3" cy="345.6" r="5.9"/><circle cx="669.6" cy="349.2" r="5.9"/><circle cx="670.9" cy="348.8" r="5.9"/><circle cx="672.2" cy="347.4" r="5.9"/><circle cx="673.5" cy="346.8" r="5.9"/><circle cx="674.8" cy="351.2" r="5.9"/><circle cx="676.1" cy="349.1" r="5.9"/><circle cx="677.4" cy="348.5" r="5.9"/><circle cx="678.7" cy="348.3" r="5.9"/><circle cx="680.0" cy="350.1" r="5.9"/><circle cx="681.3" cy="347.7" r="5.9"/><circle cx="682.6" cy="345.2" r="5.9"/></g><path fill="#cd0b0e" d="M116.3 236.3l7.2 7.2l-7.2 7.2l-7.2 -7.2zM117.6 238.5l7.2 7.2l-7.2 7.2l-7.2 -7.2zM118.9 235.5l7.2 7.2l-7.2 7.2l-7.2 -7.2zM120.2 237.4l7.2 7.2l-7.2 7.2l-7.2 -7.2zM121.5 238.8l7.2 7.2l-7.2 7.2l-7.2 -7.2zM122.8 240.4l7.2 7.2l-7.2 7.2l-7.2 -7.2zM124.1 242.2l7.2 7.2l-7.2 7.2l-7.2 -7.2zM125.4 241.8l7.2 7.2l-7.2 7.2l-7.2 -7.2zM126.7 244.6l7.2 7.2l-7.2 7.2l-7.2 -7.2zM128.0 242.9l7.2 7.2l-7.2 7.2l-7.2 -7.2zM129.3 247.7l7.2 7.2l-7.2 7.2l-7.2 -7.2zM130.6 245.5l7.2 7.2l-7.2 7.2l-7.2 -7.2zM131.9 250.6l7.2 7.2l-7.2 7.2l-7.2 -7.2zM133.2 257.5l7.2 7.2l-7.2 7.2l-7.2 -7.2zM134.5 258.6l7.2 7.2l-7.2 7.2l-7.2 -7.2zM135.8 252.7l7.2 7.2l-7.2 7.2l-7.2 -7.2zM137.1 262.2l7.2 7.2l-7.2 7.2l-7.2 -7.2zM138.4 258.6l7.2 7.2l-7.2 7.2l-7.2 -7.2zM139.7 259.4l7.2 7.2l-7.2 7.2l-7.2 -7.2zM141.0 262.0l7.2 7.2l-7.2 7.2l-7.2 -7.2zM142.3 261.7l7.2 7.2l-7.2 7.2l-7.2 -7.2zM143.6 270.7l7.2 7.2l-7.2 7.2l-7.2 -7.2zM144.9 267.1l7.2 7.2l-7.2 7.2l-7.2 -7.2zM146.2 270.3l7.2 7.2l-7.2 7.2l-7.2 -7.2zM147.5 268.2l7.2 7.2l-7.2 7.2l-7.2 -7.2zM148.8 270.0l7.2 7.2l-7.2 7.2l-7.2 -7.2zM150.1 270.4l7.2 7.2l-7.2 7.2l-7.2 -7.2zM151.4 275.2l7.2 7.2l-7.2 7.2l-7.2 -7.2zM152.7 271.9l7.2 7.2l-7.2 7.2l-7.2 -7.2zM154.0 276.7l7.2 7.2l-7.2 7.2l-7.2 -7.2zM155.3 279.1l7.2 7.2l-7.2 7.2l-7.2 -7.2zM156.6 281.5l7.2 7.2l-7.2 7.2l-7.2 -7.2zM157.9 281.4l7.2 7.2l-7.2 7.2l-7.2 -7.2zM159.2 281.9l7.2 7.2l-7.2 7.2l-7.2 -7.2zM160.5 279.2l7.2 7.2l-7.2 7.2l-7.2 -7.2zM161.8 281.8l7.2 7.2l-7.2 7.2l-7.2 -7.2zM163.1 282.0l7.2 7.2l-7.2 7.2l-7.2 -7.2zM164.4 286.4l7.2 7.2l-7.2 7.2l-7.2 -7.2zM165.7 280.6l7.2 7.2l-7.2 7.2l-7.2 -7.2zM167.0 289.4l7.2 7.2l-7.2 7.2l-7.2 -7.2zM168.3 284.1l7.2 7.2l-7.2 7.2l-7.2 -7.2zM169.6 289.5l7.2 7.2l-7.2 7.2l-7.2 -7.2zM170.9 291.3l7.2 7.2l-7.2 7.2l-7.2 -7.2zM172.2 289.8l7.2 7.2l-7.2 7.2l-7.2 -7.2zM173.4 280.4l7.2 7.2l-7.2 7.2l-7.2 -7.2zM174.7 285.6l7.2 7.2l-7.2 7.2l-7.2 -7.2zM176.0 292.0l7.2 7.2l-7.2 7.2l-7.2 -7.2zM177.3 290.6l7.2 7.2l-7.2 7.2l-7.2 -7.2zM178.6 294.7l7.2 7.2l-7.2 7.2l-7.2 -7.2zM179.9 293.9l7.2 7.2l-7.2 7.2l-7.2 -7.2zM181.2 295.2l7.2 7.2l-7.2 7.2l-7.2 -7.2zM182.5 296.3l7.2 7.2l-7.2 7.2l-7.2 -7.2zM183.8 296.9l7.2 7.2l-7.2 7.2l-7.2 -7.2zM185.1 290.1l7.2 7.2l-7.2 7.2l-7.2 -7.2zM186.4 296.4l7.2 7.2l-7.2 7.2l-7.2 -7.2zM187.7 288.6l7.2 7.2l-7.2 7.2l-7.2 -7.2zM189.0 294.1l7.2 7.2l-7.2 7.2l-7.2 -7.2zM190.3 294.0l7.2 7.2l-7.2 7.2l-7.2 -7.2zM191.6 299.1l7.2 7.2l-7.2 7.2l-7.2 -7.2zM192.9 300.4l7.2 7.2l-7.2 7.2l-7.2 -7.2zM194.2 294.2l7.2 7.2l-7.2 7.2l-7.2 -7.2zM195.5 293.5l7.2 7.2l-7.2 7.2l-7.2 -7.2zM196.8 294.2l7.2 7.2l-7.2 7.2l-7.2 -7.2zM198.1 298.1l7.2 7.2l-7.2 7.2l-7.2 -7.2zM199.4 296.7l7.2 7.2l-7.2 7.2l-7.2 -7.2zM200.7 302.2l7.2 7.2l-7.2 7.2l-7.2 -7.2zM202.0 298.7l7.2 7.2l-7.2 7.2l-7.2 -7.2zM203.3 298.5l7.2 7.2l-7.2 7.2l-7.2 -7.2zM204.6 298.8l7.2 7.2l-7.2 7.2l-7.2 -7.2zM205.9 298.6l7.2 7.2l-7.2 7.2l-7.2 -7.2zM207.2 298.6l7.2 7.2l-7.2 7.2l-7.2 -7.2zM208.5 300.6l7.2 7.2l-7.2 7.2l-7.2 -7.2zM209.8 300.7l7.2 7.2l-7.2 7.2l-7.2 -7.2zM211.1 300.9l7.2 7.2l-7.2 7.2l-7.2 -7.2zM212.4 296.4l7.2 7.2l-7.2 7.2l-7.2 -7.2zM213.7 304.0l7.2 7.2l-7.2 7.2l-7.2 -7.2zM215.0 302.2l7.2 7.2l-7.2 7.2l-7.2 -7.2zM216.3 302.3l7.2 7.2l-7.2 7.2l-7.2 -7.2zM217.6 301.9l7.2 7.2l-7.2 7.2l-7.2 -7.2zM218.9 304.0l7.2 7.2l-7.2 7.2l-7.2 -7.2zM220.2 304.4l7.2 7.2l-7.2 7.2l-7.2 -7.2zM221.5 302.2l7.2 7.2l-7.2 7.2l-7.2 -7.2zM222.8 303.6l7.2 7.2l-7.2 7.2l-7.2 -7.2zM224.1 303.4l7.2 7.2l-7.2 7.2l-7.2 -7.2zM225.4 300.8l7.2 7.2l-7.2 7.2l-7.2 -7.2zM226.7 304.7l7.2 7.2l-7.2 7.2l-7.2 -7.2zM228.0 304.4l7.2 7.2l-7.2 7.2l-7.2 -7.2zM229.3 305.5l7.2 7.2l-7.2 7.2l-7.2 -7.2zM230.6 304.3l7.2 7.2l-7.2 7.2l-7.2 -7.2zM231.9 304.3l7.2 7.2l-7.2 7.2l-7.2 -7.2zM233.2 305.9l7.2 7.2l-7.2 7.2l-7.2 -7.2zM234.5 306.0l7.2 7.2l-7.2 7.2l-7.2 -7.2zM235.8 306.1l7.2 7.2l-7.2 7.2l-7.2 -7.2zM237.1 306.0l7.2 7.2l-7.2 7.2l-7.2 -7.2zM238.4 306.0l7.2 7.2l-7.2 7.2l-7.2 -7.2zM239.7 308.2l7.2 7.2l-7.2 7.2l-7.2 -7.2zM241.0 306.9l7.2 7.2l-7.2 7.2l-7.2 -7.2zM242.3 300.9l7.2 7.2l-7.2 7.2l-7.2 -7.2zM243.6 303.6l7.2 7.2l-7.2 7.2l-7.2 -7.2zM244.9 302.4l7.2 7.2l-7.2 7.2l-7.2 -7.2zM246.2 308.3l7.2 7.2l-7.2 7.2l-7.2 -7.2zM247.5 308.1l7.2 7.2l-7.2 7.2l-7.2 -7.2zM248.8 304.2l7.2 7.2l-7.2 7.2l-7.2 -7.2zM250.1 303.7l7.2 7.2l-7.2 7.2l-7.2 -7.2zM251.4 306.8l7.2 7.2l-7.2 7.2l-7.2 -7.2zM252.7 308.9l7.2 7.2l-7.2 7.2l-7.2 -7.2zM254.0 308.7l7.2 7.2l-7.2 7.2l-7.2 -7.2zM255.3 308.8l7.2 7.2l-7.2 7.2l-7.2 -7.2zM256.6 302.5l7.2 7.2l-7.2 7.2l-7.2 -7.2zM257.9 310.0l7.2 7.2l-7.2 7.2l-7.2 -7.2zM259.2 305.3l7.2 7.2l-7.2 7.2l-7.2 -7.2zM260.5 308.8l7.2 7.2l-7.2 7.2l-7.2 -7.2zM261.8 310.3l7.2 7.2l-7.2 7.2l-7.2 -7.2zM263.1 310.6l7.2 7.2l-7.2 7.2l-7.2 -7.2zM264.4 309.0l7.2 7.2l-7.2 7.2l-7.2 -7.2zM265.7 311.4l7.2 7.2l-7.2 7.2l-7.2 -7.2zM267.0 309.4l7.2 7.2l-7.2 7.2l-7.2 -7.2zM268.3 309.4l7.2 7.2l-7.2 7.2l-7.2 -7.2zM270.1 309.2l7.2 7.2l-7.2 7.2l-7.2 -7.2z"/><path fill="#081dc6" d="M117.2 209.7l6.7 13.0h-13.4zM119.1 203.1l6.7 13.0h-13.4zM120.2 197.1l6.7 13.0h-13.4zM121.9 189.8l6.7 13.0h-13.4zM124.3 183.7l6.7 13.0h-13.4zM126.6 168.4l6.7 13.0h-13.4zM127.9 163.9l6.7 13.0h-13.4zM129.1 161.8l6.7 13.0h-13.4zM130.4 158.8l6.7 13.0h-13.4zM131.7 156.2l6.7 13.0h-13.4zM133.0 151.5l6.7 13.0h-13.4zM134.3 150.1l6.7 13.0h-13.4zM135.6 148.3l6.7 13.0h-13.4zM136.9 143.7l6.7 13.0h-13.4zM138.2 141.6l6.7 13.0h-13.4zM139.5 139.2l6.7 13.0h-13.4zM140.8 140.5l6.7 13.0h-13.4zM142.1 138.1l6.7 13.0h-13.4zM143.4 137.2l6.7 13.0h-13.4zM144.7 139.3l6.7 13.0h-13.4zM146.0 136.0l6.7 13.0h-13.4zM147.3 136.1l6.7 13.0h-13.4zM148.6 133.1l6.7 13.0h-13.4zM149.9 136.7l6.7 13.0h-13.4zM151.2 137.5l6.7 13.0h-13.4zM152.5 135.6l6.7 13.0h-13.4zM153.8 137.6l6.7 13.0h-13.4zM155.1 137.0l6.7 13.0h-13.4zM156.4 139.4l6.7 13.0h-13.4zM157.7 139.0l6.7 13.0h-13.4zM159.0 138.3l6.7 13.0h-13.4zM160.3 139.6l6.7 13.0h-13.4zM161.6 141.3l6.7 13.0h-13.4zM162.9 144.0l6.7 13.0h-13.4zM164.2 142.5l6.7 13.0h-13.4zM165.5 143.9l6.7 13.0h-13.4zM166.8 143.7l6.7 13.0h-13.4zM168.1 145.4l6.7 13.0h-13.4zM169.4 145.0l6.7 13.0h-13.4zM170.7 147.6l6.7 13.0h-13.4zM172.0 148.2l6.7 13.0h-13.4zM173.3 148.4l6.7 13.0h-13.4zM174.6 152.0l6.7 13.0h-13.4zM175.9 151.8l6.7 13.0h-13.4zM177.2 152.9l6.7 13.0h-13.4zM178.5 150.0l6.7 13.0h-13.4zM179.8 154.1l6.7 13.0h-13.4zM181.1 153.9l6.7 13.0h-13.4zM182.4 154.9l6.7 13.0h-13.4zM183.7 157.2l6.7 13.0h-13.4zM185.0 160.0l6.7 13.0h-13.4zM186.3 157.1l6.7 13.0h-13.4zM187.6 160.1l6.7 13.0h-13.4zM188.9 159.3l6.7 13.0h-13.4zM190.2 163.3l6.7 13.0h-13.4zM191.5 162.9l6.7 13.0h-13.4zM192.8 161.3l6.7 13.0h-13.4zM194.1 161.9l6.7 13.0h-13.4zM195.4 167.0l6.7 13.0h-13.4zM196.7 168.0l6.7 13.0h-13.4zM198.0 166.9l6.7 13.0h-13.4zM199.3 166.6l6.7 13.0h-13.4zM200.6 168.4l6.7 13.0h-13.4zM201.9 169.1l6.7 13.0h-13.4zM203.2 171.9l6.7 13.0h-13.4zM204.5 170.4l6.7 13.0h-13.4zM205.8 170.5l6.7 13.0h-13.4zM207.1 173.8l6.7 13.0h-13.4zM208.4 176.2l6.7 13.0h-13.4zM209.7 176.1l6.7 13.0h-13.4zM211.0 174.6l6.7 13.0h-13.4zM212.3 179.3l6.7 13.0h-13.4zM213.6 177.7l6.7 13.0h-13.4zM214.9 180.0l6.7 13.0h-13.4zM216.2 179.6l6.7 13.0h-13.4zM217.5 180.6l6.7 13.0h-13.4zM218.8 181.1l6.7 13.0h-13.4zM220.1 179.8l6.7 13.0h-13.4zM221.4 182.3l6.7 13.0h-13.4zM222.7 181.8l6.7 13.0h-13.4zM224.0 185.0l6.7 13.0h-13.4zM225.3 186.4l6.7 13.0h-13.4zM226.6 185.9l6.7 13.0h-13.4zM227.9 191.7l6.7 13.0h-13.4zM229.2 188.3l6.7 13.0h-13.4zM230.5 188.9l6.7 13.0h-13.4zM231.8 191.9l6.7 13.0h-13.4zM233.1 190.1l6.7 13.0h-13.4zM234.4 192.6l6.7 13.0h-13.4zM235.7 196.4l6.7 13.0h-13.4zM237.0 193.8l6.7 13.0h-13.4zM238.3 195.8l6.7 13.0h-13.4zM239.6 196.0l6.7 13.0h-13.4zM240.9 196.3l6.7 13.0h-13.4zM242.2 195.0l6.7 13.0h-13.4zM243.5 197.7l6.7 13.0h-13.4zM244.8 198.7l6.7 13.0h-13.4zM246.1 199.0l6.7 13.0h-13.4zM247.4 203.2l6.7 13.0h-13.4zM248.6 199.4l6.7 13.0h-13.4zM249.9 203.8l6.7 13.0h-13.4zM251.2 202.4l6.7 13.0h-13.4zM252.5 205.6l6.7 13.0h-13.4zM253.8 206.2l6.7 13.0h-13.4zM255.1 206.1l6.7 13.0h-13.4zM256.4 203.4l6.7 13.0h-13.4zM257.7 206.1l6.7 13.0h-13.4zM259.0 208.8l6.7 13.0h-13.4zM260.3 209.2l6.7 13.0h-13.4zM261.6 211.3l6.7 13.0h-13.4zM262.9 210.4l6.7 13.0h-13.4zM264.2 212.0l6.7 13.0h-13.4zM265.5 210.8l6.7 13.0h-13.4zM266.8 214.8l6.7 13.0h-13.4zM268.1 214.0l6.7 13.0h-13.4zM269.4 215.6l6.7 13.0h-13.4zM270.7 216.2l6.7 13.0h-13.4zM272.0 214.8l6.7 13.0h-13.4zM273.3 216.5l6.7 13.0h-13.4zM274.6 216.6l6.7 13.0h-13.4zM275.9 216.5l6.7 13.0h-13.4zM277.2 217.3l6.7 13.0h-13.4zM278.5 222.0l6.7 13.0h-13.4zM279.8 219.8l6.7 13.0h-13.4zM281.1 224.1l6.7 13.0h-13.4zM282.4 222.2l6.7 13.0h-13.4zM283.7 219.9l6.7 13.0h-13.4zM285.0 223.7l6.7 13.0h-13.4zM286.3 224.7l6.7 13.0h-13.4zM287.6 224.5l6.7 13.0h-13.4zM288.9 225.4l6.7 13.0h-13.4zM290.2 226.0l6.7 13.0h-13.4zM291.5 227.8l6.7 13.0h-13.4zM292.8 225.7l6.7 13.0h-13.4zM294.1 226.6l6.7 13.0h-13.4zM295.4 228.9l6.7 13.0h-13.4zM296.7 228.8l6.7 13.0h-13.4zM298.0 228.9l6.7 13.0h-13.4zM299.3 229.0l6.7 13.0h-13.4zM300.6 230.6l6.7 13.0h-13.4zM301.9 230.8l6.7 13.0h-13.4zM303.2 232.9l6.7 13.0h-13.4zM304.5 234.8l6.7 13.0h-13.4zM305.8 234.5l6.7 13.0h-13.4zM307.1 232.9l6.7 13.0h-13.4zM308.4 233.6l6.7 13.0h-13.4zM309.7 235.5l6.7 13.0h-13.4zM311.0 237.1l6.7 13.0h-13.4zM312.3 236.3l6.7 13.0h-13.4zM313.6 234.7l6.7 13.0h-13.4zM314.9 235.7l6.7 13.0h-13.4zM316.2 239.3l6.7 13.0h-13.4zM317.5 238.8l6.7 13.0h-13.4zM318.8 241.5l6.7 13.0h-13.4zM320.1 241.5l6.7 13.0h-13.4zM321.4 240.0l6.7 13.0h-13.4zM322.7 240.7l6.7 13.0h-13.4zM324.0 239.8l6.7 13.0h-13.4zM325.3 239.8l6.7 13.0h-13.4zM326.6 241.0l6.7 13.0h-13.4zM327.9 240.7l6.7 13.0h-13.4zM329.2 244.1l6.7 13.0h-13.4zM330.5 245.5l6.7 13.0h-13.4zM331.8 243.5l6.7 13.0h-13.4zM333.1 240.6l6.7 13.0h-13.4zM334.4 244.7l6.7 13.0h-13.4zM335.7 247.5l6.7 13.0h-13.4zM337.0 245.8l6.7 13.0h-13.4zM338.3 244.5l6.7 13.0h-13.4zM339.6 248.7l6.7 13.0h-13.4zM340.9 246.3l6.7 13.0h-13.4zM342.2 248.8l6.7 13.0h-13.4zM343.5 246.3l6.7 13.0h-13.4zM344.8 247.4l6.7 13.0h-13.4zM346.1 248.5l6.7 13.0h-13.4zM347.4 246.3l6.7 13.0h-13.4zM348.7 250.3l6.7 13.0h-13.4zM350.0 251.1l6.7 13.0h-13.4zM351.3 247.6l6.7 13.0h-13.4zM352.6 252.2l6.7 13.0h-13.4zM353.9 247.9l6.7 13.0h-13.4zM355.2 251.6l6.7 13.0h-13.4zM356.5 253.5l6.7 13.0h-13.4zM357.8 252.3l6.7 13.0h-13.4zM359.1 252.5l6.7 13.0h-13.4zM360.4 252.8l6.7 13.0h-13.4zM361.7 253.7l6.7 13.0h-13.4zM363.0 252.2l6.7 13.0h-13.4zM364.3 257.7l6.7 13.0h-13.4zM365.6 255.4l6.7 13.0h-13.4zM366.9 255.3l6.7 13.0h-13.4zM368.1 252.4l6.7 13.0h-13.4zM369.4 258.5l6.7 13.0h-13.4zM370.7 256.2l6.7 13.0h-13.4zM372.0 257.7l6.7 13.0h-13.4zM373.3 257.2l6.7 13.0h-13.4zM374.6 255.5l6.7 13.0h-13.4zM375.9 256.1l6.7 13.0h-13.4zM377.2 254.7l6.7 13.0h-13.4zM378.5 258.1l6.7 13.0h-13.4zM379.8 257.0l6.7 13.0h-13.4zM381.1 255.9l6.7 13.0h-13.4zM382.4 256.6l6.7 13.0h-13.4zM383.7 258.7l6.7 13.0h-13.4zM385.0 256.7l6.7 13.0h-13.4zM386.3 260.1l6.7 13.0h-13.4zM387.6 256.2l6.7 13.0h-13.4zM388.9 258.9l6.7 13.0h-13.4zM390.2 259.6l6.7 13.0h-13.4zM391.5 259.3l6.7 13.0h-13.4zM392.8 258.6l6.7 13.0h-13.4zM394.1 257.5l6.7 13.0h-13.4zM395.4 260.6l6.7 13.0h-13.4zM396.7 261.3l6.7 13.0h-13.4zM398.0 260.1l6.7 13.0h-13.4zM399.3 262.6l6.7 13.0h-13.4zM400.6 264.1l6.7 13.0h-13.4zM401.9 260.5l6.7 13.0h-13.4zM403.2 262.6l6.7 13.0h-13.4zM404.5 260.6l6.7 13.0h-13.4zM405.8 264.2l6.7 13.0h-13.4zM407.1 267.3l6.7 13.0h-13.4zM408.4 262.7l6.7 13.0h-13.4zM409.7 263.2l6.7 13.0h-13.4zM411.0 261.3l6.7 13.0h-13.4zM412.3 263.2l6.7 13.0h-13.4zM413.6 263.8l6.7 13.0h-13.4zM414.9 263.6l6.7 13.0h-13.4zM416.2 265.4l6.7 13.0h-13.4zM417.5 265.0l6.7 13.0h-13.4zM418.8 267.4l6.7 13.0h-13.4zM420.1 264.8l6.7 13.0h-13.4zM421.4 267.1l6.7 13.0h-13.4zM422.7 266.9l6.7 13.0h-13.4zM424.0 265.4l6.7 13.0h-13.4zM425.3 265.3l6.7 13.0h-13.4zM426.6 268.5l6.7 13.0h-13.4zM427.9 264.1l6.7 13.0h-13.4zM429.2 268.3l6.7 13.0h-13.4zM430.5 266.4l6.7 13.0h-13.4zM431.8 266.5l6.7 13.0h-13.4zM433.1 267.8l6.7 13.0h-13.4zM434.4 268.2l6.7 13.0h-13.4zM435.7 265.9l6.7 13.0h-13.4zM437.0 267.6l6.7 13.0h-13.4zM438.3 268.5l6.7 13.0h-13.4zM439.6 272.2l6.7 13.0h-13.4zM440.9 270.8l6.7 13.0h-13.4zM442.2 268.2l6.7 13.0h-13.4zM443.5 269.9l6.7 13.0h-13.4zM444.8 271.9l6.7 13.0h-13.4zM446.1 271.7l6.7 13.0h-13.4zM447.4 271.4l6.7 13.0h-13.4zM448.7 270.1l6.7 13.0h-13.4zM450.0 270.8l6.7 13.0h-13.4zM451.3 270.1l6.7 13.0h-13.4zM452.6 273.0l6.7 13.0h-13.4zM453.9 270.8l6.7 13.0h-13.4zM455.2 273.0l6.7 13.0h-13.4zM456.5 273.0l6.7 13.0h-13.4zM457.8 270.5l6.7 13.0h-13.4zM459.1 272.9l6.7 13.0h-13.4zM460.4 273.4l6.7 13.0h-13.4zM461.7 273.8l6.7 13.0h-13.4zM463.0 274.2l6.7 13.0h-13.4zM464.3 271.9l6.7 13.0h-13.4zM465.6 272.4l6.7 13.0h-13.4zM466.9 273.4l6.7 13.0h-13.4zM468.2 274.4l6.7 13.0h-13.4zM469.5 273.5l6.7 13.0h-13.4zM470.8 275.2l6.7 13.0h-13.4zM472.1 274.7l6.7 13.0h-13.4zM473.4 275.0l6.7 13.0h-13.4zM474.7 275.6l6.7 13.0h-13.4zM476.0 273.8l6.7 13.0h-13.4zM477.3 273.9l6.7 13.0h-13.4zM478.6 274.7l6.7 13.0h-13.4zM479.9 279.1l6.7 13.0h-13.4zM481.2 274.4l6.7 13.0h-13.4zM482.5 276.1l6.7 13.0h-13.4zM483.8 277.7l6.7 13.0h-13.4zM485.1 277.3l6.7 13.0h-13.4zM486.4 275.9l6.7 13.0h-13.4zM487.7 276.0l6.7 13.0h-13.4zM488.9 276.6l6.7 13.0h-13.4zM490.2 277.7l6.7 13.0h-13.4zM491.5 278.0l6.7 13.0h-13.4zM492.8 277.1l6.7 13.0h-13.4zM494.1 278.4l6.7 13.0h-13.4zM495.4 279.6l6.7 13.0h-13.4zM496.7 279.4l6.7 13.0h-13.4zM498.0 279.0l6.7 13.0h-13.4zM499.3 278.5l6.7 13.0h-13.4zM500.6 276.1l6.7 13.0h-13.4zM501.9 281.0l6.7 13.0h-13.4zM503.2 278.7l6.7 13.0h-13.4zM504.5 279.6l6.7 13.0h-13.4zM505.8 279.3l6.7 13.0h-13.4zM507.1 278.0l6.7 13.0h-13.4zM508.4 278.3l6.7 13.0h-13.4zM509.7 280.3l6.7 13.0h-13.4zM511.0 281.0l6.7 13.0h-13.4zM512.3 282.1l6.7 13.0h-13.4zM513.6 280.6l6.7 13.0h-13.4zM514.9 279.0l6.7 13.0h-13.4zM516.2 281.1l6.7 13.0h-13.4zM517.5 279.9l6.7 13.0h-13.4zM518.8 280.0l6.7 13.0h-13.4zM520.1 280.6l6.7 13.0h-13.4zM521.4 279.8l6.7 13.0h-13.4zM522.7 281.5l6.7 13.0h-13.4zM524.0 282.6l6.7 13.0h-13.4zM525.3 283.1l6.7 13.0h-13.4zM526.6 280.5l6.7 13.0h-13.4zM527.9 282.3l6.7 13.0h-13.4zM529.2 282.4l6.7 13.0h-13.4zM530.5 281.0l6.7 13.0h-13.4zM531.8 283.3l6.7 13.0h-13.4zM533.1 280.0l6.7 13.0h-13.4zM534.4 281.6l6.7 13.0h-13.4zM535.7 283.3l6.7 13.0h-13.4zM537.0 283.5l6.7 13.0h-13.4zM538.3 281.4l6.7 13.0h-13.4zM539.6 284.5l6.7 13.0h-13.4zM540.9 283.9l6.7 13.0h-13.4zM542.2 283.2l6.7 13.0h-13.4zM543.5 283.1l6.7 13.0h-13.4zM544.8 283.4l6.7 13.0h-13.4zM546.1 283.1l6.7 13.0h-13.4zM547.4 284.2l6.7 13.0h-13.4zM548.7 284.0l6.7 13.0h-13.4zM550.0 282.3l6.7 13.0h-13.4zM551.3 283.2l6.7 13.0h-13.4zM552.6 284.8l6.7 13.0h-13.4zM553.9 282.1l6.7 13.0h-13.4zM555.2 287.1l6.7 13.0h-13.4zM556.5 284.5l6.7 13.0h-13.4zM557.8 283.8l6.7 13.0h-13.4zM559.1 283.6l6.7 13.0h-13.4zM560.4 284.8l6.7 13.0h-13.4zM561.7 285.6l6.7 13.0h-13.4zM563.0 284.4l6.7 13.0h-13.4zM564.3 285.6l6.7 13.0h-13.4zM565.6 284.8l6.7 13.0h-13.4zM566.9 289.3l6.7 13.0h-13.4zM568.2 285.2l6.7 13.0h-13.4zM569.5 286.9l6.7 13.0h-13.4zM570.8 284.7l6.7 13.0h-13.4zM572.1 285.1l6.7 13.0h-13.4zM573.4 285.2l6.7 13.0h-13.4zM574.7 286.9l6.7 13.0h-13.4zM576.0 285.9l6.7 13.0h-13.4zM577.3 287.0l6.7 13.0h-13.4zM578.6 286.4l6.7 13.0h-13.4zM579.9 287.0l6.7 13.0h-13.4zM581.2 288.1l6.7 13.0h-13.4zM582.5 284.5l6.7 13.0h-13.4zM583.8 286.2l6.7 13.0h-13.4zM585.1 290.0l6.7 13.0h-13.4zM586.4 286.3l6.7 13.0h-13.4zM587.7 289.4l6.7 13.0h-13.4zM589.0 288.0l6.7 13.0h-13.4zM590.3 288.6l6.7 13.0h-13.4zM591.6 288.6l6.7 13.0h-13.4zM592.9 287.8l6.7 13.0h-13.4zM594.2 288.6l6.7 13.0h-13.4zM595.5 290.2l6.7 13.0h-13.4zM596.8 288.5l6.7 13.0h-13.4zM598.1 288.1l6.7 13.0h-13.4zM599.4 286.5l6.7 13.0h-13.4zM600.7 289.5l6.7 13.0h-13.4zM602.0 290.6l6.7 13.0h-13.4zM603.3 289.7l6.7 13.0h-13.4zM604.6 288.5l6.7 13.0h-13.4zM605.9 290.7l6.7 13.0h-13.4zM607.2 290.6l6.7 13.0h-13.4zM608.4 289.1l6.7 13.0h-13.4zM609.7 290.0l6.7 13.0h-13.4zM611.0 289.8l6.7 13.0h-13.4zM612.3 291.1l6.7 13.0h-13.4zM613.6 291.5l6.7 13.0h-13.4zM614.9 291.0l6.7 13.0h-13.4zM616.2 290.9l6.7 13.0h-13.4zM617.5 291.3l6.7 13.0h-13.4zM618.8 290.4l6.7 13.0h-13.4zM620.1 290.4l6.7 13.0h-13.4zM621.4 290.6l6.7 13.0h-13.4zM622.7 290.8l6.7 13.0h-13.4zM624.0 292.8l6.7 13.0h-13.4zM625.3 293.2l6.7 13.0h-13.4zM626.6 290.8l6.7 13.0h-13.4zM627.9 292.0l6.7 13.0h-13.4zM629.2 291.9l6.7 13.0h-13.4zM630.5 293.7l6.7 13.0h-13.4zM631.8 292.6l6.7 13.0h-13.4zM633.1 293.3l6.7 13.0h-13.4zM634.4 293.7l6.7 13.0h-13.4zM635.7 293.5l6.7 13.0h-13.4zM637.0 294.8l6.7 13.0h-13.4zM638.3 292.9l6.7 13.0h-13.4zM639.6 291.6l6.7 13.0h-13.4zM640.9 294.1l6.7 13.0h-13.4zM642.2 293.2l6.7 13.0h-13.4zM643.5 294.9l6.7 13.0h-13.4zM644.8 292.7l6.7 13.0h-13.4zM646.1 291.3l6.7 13.0h-13.4zM647.4 295.5l6.7 13.0h-13.4zM648.7 294.3l6.7 13.0h-13.4zM650.0 292.2l6.7 13.0h-13.4zM651.3 293.7l6.7 13.0h-13.4zM652.6 294.2l6.7 13.0h-13.4zM653.9 297.1l6.7 13.0h-13.4zM655.2 294.8l6.7 13.0h-13.4zM656.5 293.5l6.7 13.0h-13.4zM657.8 293.0l6.7 13.0h-13.4zM659.1 294.1l6.7 13.0h-13.4zM660.4 295.8l6.7 13.0h-13.4zM661.7 296.1l6.7 13.0h-13.4zM663.0 297.7l6.7 13.0h-13.4zM664.3 296.9l6.7 13.0h-13.4zM665.6 294.1l6.7 13.0h-13.4zM666.9 295.9l6.7 13.0h-13.4zM668.2 297.6l6.7 13.0h-13.4zM669.5 294.2l6.7 13.0h-13.4zM670.8 298.3l6.7 13.0h-13.4zM672.1 294.5l6.7 13.0h-13.4zM673.4 296.7l6.7 13.0h-13.4zM674.7 296.0l6.7 13.0h-13.4zM676.0 295.7l6.7 13.0h-13.4zM677.3 296.4l6.7 13.0h-13.4zM678.6 295.2l6.7 13.0h-13.4zM679.9 296.9l6.7 13.0h-13.4zM681.2 297.4l6.7 13.0h-13.4zM682.5 297.9l6.7 13.0h-13.4z"/></g><g clip-path="url(#cb)"><path fill="#0c8318" d="M111.7 638.0h10.0v10.0h-10.0zM114.4 650.9h10.0v10.0h-10.0zM115.6 665.9h10.0v10.0h-10.0zM113.0 675.6h10.0v10.0h-10.0zM118.0 677.2h10.0v10.0h-10.0zM119.3 682.2h10.0v10.0h-10.0zM120.6 689.2h10.0v10.0h-10.0zM121.9 695.3h10.0v10.0h-10.0zM123.2 701.5h10.0v10.0h-10.0zM124.5 707.4h10.0v10.0h-10.0zM125.8 711.1h10.0v10.0h-10.0zM127.1 715.3h10.0v10.0h-10.0zM128.4 719.5h10.0v10.0h-10.0zM129.7 722.9h10.0v10.0h-10.0zM131.0 726.3h10.0v10.0h-10.0zM132.3 728.7h10.0v10.0h-10.0zM133.6 731.5h10.0v10.0h-10.0zM134.9 733.5h10.0v10.0h-10.0zM136.2 736.7h10.0v10.0h-10.0zM137.5 739.5h10.0v10.0h-10.0zM138.8 741.9h10.0v10.0h-10.0zM140.1 744.5h10.0v10.0h-10.0zM141.4 747.8h10.0v10.0h-10.0zM142.7 748.5h10.0v10.0h-10.0zM144.0 751.6h10.0v10.0h-10.0zM145.3 753.4h10.0v10.0h-10.0zM146.6 755.1h10.0v10.0h-10.0zM147.9 754.7h10.0v10.0h-10.0zM149.2 757.2h10.0v10.0h-10.0zM150.5 759.0h10.0v10.0h-10.0zM151.8 761.3h10.0v10.0h-10.0zM153.1 761.6h10.0v10.0h-10.0zM154.4 763.4h10.0v10.0h-10.0zM155.7 763.0h10.0v10.0h-10.0zM157.0 765.3h10.0v10.0h-10.0zM158.3 765.3h10.0v10.0h-10.0zM159.6 765.5h10.0v10.0h-10.0zM160.9 767.3h10.0v10.0h-10.0zM162.2 767.5h10.0v10.0h-10.0zM163.5 768.0h10.0v10.0h-10.0zM164.8 768.0h10.0v10.0h-10.0zM166.1 769.3h10.0v10.0h-10.0zM167.3 769.1h10.0v10.0h-10.0zM168.6 768.8h10.0v10.0h-10.0zM169.9 771.2h10.0v10.0h-10.0zM171.2 771.4h10.0v10.0h-10.0zM172.5 771.1h10.0v10.0h-10.0zM173.8 772.3h10.0v10.0h-10.0zM175.1 773.2h10.0v10.0h-10.0zM176.4 772.2h10.0v10.0h-10.0zM177.7 773.0h10.0v10.0h-10.0zM179.0 773.5h10.0v10.0h-10.0zM180.3 774.1h10.0v10.0h-10.0zM181.6 774.8h10.0v10.0h-10.0zM182.9 776.2h10.0v10.0h-10.0zM184.2 777.5h10.0v10.0h-10.0zM185.5 776.2h10.0v10.0h-10.0zM186.8 777.6h10.0v10.0h-10.0zM188.1 777.3h10.0v10.0h-10.0zM189.4 777.6h10.0v10.0h-10.0zM190.7 778.9h10.0v10.0h-10.0zM192.0 778.8h10.0v10.0h-10.0zM193.3 778.1h10.0v10.0h-10.0zM194.6 779.1h10.0v10.0h-10.0zM195.9 780.8h10.0v10.0h-10.0zM197.2 780.4h10.0v10.0h-10.0zM198.5 780.8h10.0v10.0h-10.0zM199.8 780.9h10.0v10.0h-10.0zM201.1 781.2h10.0v10.0h-10.0zM202.4 782.1h10.0v10.0h-10.0zM203.7 782.6h10.0v10.0h-10.0zM205.0 782.4h10.0v10.0h-10.0zM206.3 784.1h10.0v10.0h-10.0zM207.6 783.1h10.0v10.0h-10.0zM208.9 784.0h10.0v10.0h-10.0zM210.2 784.8h10.0v10.0h-10.0zM211.5 785.2h10.0v10.0h-10.0zM212.8 785.0h10.0v10.0h-10.0zM214.1 786.3h10.0v10.0h-10.0zM215.4 787.1h10.0v10.0h-10.0zM216.7 785.8h10.0v10.0h-10.0zM218.0 785.5h10.0v10.0h-10.0zM219.3 786.7h10.0v10.0h-10.0zM220.6 786.9h10.0v10.0h-10.0zM221.9 787.2h10.0v10.0h-10.0zM223.2 788.1h10.0v10.0h-10.0zM224.5 787.6h10.0v10.0h-10.0zM225.8 787.7h10.0v10.0h-10.0zM227.1 788.4h10.0v10.0h-10.0zM228.4 788.2h10.0v10.0h-10.0zM229.7 789.6h10.0v10.0h-10.0zM231.0 789.2h10.0v10.0h-10.0zM232.3 790.0h10.0v10.0h-10.0zM233.6 790.2h10.0v10.0h-10.0zM234.9 790.1h10.0v10.0h-10.0zM236.2 790.4h10.0v10.0h-10.0zM237.5 790.3h10.0v10.0h-10.0zM238.8 790.7h10.0v10.0h-10.0zM240.1 792.0h10.0v10.0h-10.0zM241.4 790.8h10.0v10.0h-10.0zM242.7 792.6h10.0v10.0h-10.0zM244.0 792.0h10.0v10.0h-10.0zM245.3 791.9h10.0v10.0h-10.0zM246.6 792.4h10.0v10.0h-10.0zM247.9 792.2h10.0v10.0h-10.0zM249.2 792.7h10.0v10.0h-10.0zM250.5 793.5h10.0v10.0h-10.0zM251.8 792.7h10.0v10.0h-10.0zM253.1 793.4h10.0v10.0h-10.0zM254.4 794.0h10.0v10.0h-10.0zM255.7 793.7h10.0v10.0h-10.0zM257.0 793.9h10.0v10.0h-10.0zM258.3 793.9h10.0v10.0h-10.0zM259.6 794.7h10.0v10.0h-10.0zM260.9 794.4h10.0v10.0h-10.0zM262.2 794.8h10.0v10.0h-10.0zM263.5 794.0h10.0v10.0h-10.0zM264.8 795.3h10.0v10.0h-10.0zM266.1 794.6h10.0v10.0h-10.0zM267.4 795.6h10.0v10.0h-10.0zM268.7 795.0h10.0v10.0h-10.0zM270.0 794.4h10.0v10.0h-10.0zM271.3 796.0h10.0v10.0h-10.0zM272.6 795.7h10.0v10.0h-10.0zM273.9 796.4h10.0v10.0h-10.0zM275.2 796.4h10.0v10.0h-10.0zM276.5 796.4h10.0v10.0h-10.0zM277.8 796.1h10.0v10.0h-10.0zM279.1 795.7h10.0v10.0h-10.0zM280.4 795.8h10.0v10.0h-10.0zM281.7 796.6h10.0v10.0h-10.0zM283.0 796.3h10.0v10.0h-10.0zM284.3 797.3h10.0v10.0h-10.0zM285.6 796.2h10.0v10.0h-10.0zM286.9 796.8h10.0v10.0h-10.0zM288.1 797.3h10.0v10.0h-10.0zM289.4 797.2h10.0v10.0h-10.0zM290.7 796.6h10.0v10.0h-10.0zM292.0 796.9h10.0v10.0h-10.0zM293.3 796.7h10.0v10.0h-10.0zM294.6 797.3h10.0v10.0h-10.0zM295.9 797.1h10.0v10.0h-10.0zM297.2 797.4h10.0v10.0h-10.0zM298.5 798.1h10.0v10.0h-10.0zM299.8 797.4h10.0v10.0h-10.0zM301.1 797.4h10.0v10.0h-10.0zM302.4 797.8h10.0v10.0h-10.0zM303.7 797.0h10.0v10.0h-10.0zM305.0 796.3h10.0v10.0h-10.0zM306.3 796.8h10.0v10.0h-10.0zM307.6 797.6h10.0v10.0h-10.0zM308.9 798.3h10.0v10.0h-10.0zM310.2 797.8h10.0v10.0h-10.0zM311.5 798.1h10.0v10.0h-10.0zM312.8 797.7h10.0v10.0h-10.0zM314.1 797.2h10.0v10.0h-10.0zM315.4 797.9h10.0v10.0h-10.0zM316.7 798.8h10.0v10.0h-10.0zM318.0 797.3h10.0v10.0h-10.0zM319.3 798.0h10.0v10.0h-10.0zM320.6 797.4h10.0v10.0h-10.0zM321.9 798.7h10.0v10.0h-10.0zM323.2 796.8h10.0v10.0h-10.0zM324.5 798.9h10.0v10.0h-10.0zM325.8 798.1h10.0v10.0h-10.0zM327.1 797.6h10.0v10.0h-10.0zM328.4 799.3h10.0v10.0h-10.0zM329.7 798.2h10.0v10.0h-10.0zM331.0 798.6h10.0v10.0h-10.0zM332.3 796.6h10.0v10.0h-10.0zM333.6 797.1h10.0v10.0h-10.0zM334.9 797.9h10.0v10.0h-10.0zM336.2 798.2h10.0v10.0h-10.0zM337.5 798.1h10.0v10.0h-10.0zM338.8 796.9h10.0v10.0h-10.0zM340.1 797.4h10.0v10.0h-10.0zM341.4 796.6h10.0v10.0h-10.0zM342.7 797.0h10.0v10.0h-10.0zM344.0 797.5h10.0v10.0h-10.0zM345.3 795.5h10.0v10.0h-10.0zM346.6 796.1h10.0v10.0h-10.0zM347.9 796.7h10.0v10.0h-10.0zM349.2 796.5h10.0v10.0h-10.0zM350.5 795.5h10.0v10.0h-10.0zM351.8 795.8h10.0v10.0h-10.0zM353.1 796.9h10.0v10.0h-10.0zM354.4 795.4h10.0v10.0h-10.0zM355.7 796.5h10.0v10.0h-10.0zM357.0 795.8h10.0v10.0h-10.0zM358.3 796.8h10.0v10.0h-10.0zM359.6 796.5h10.0v10.0h-10.0zM360.9 795.6h10.0v10.0h-10.0zM362.2 796.7h10.0v10.0h-10.0zM363.5 796.0h10.0v10.0h-10.0zM364.8 795.8h10.0v10.0h-10.0zM366.1 796.3h10.0v10.0h-10.0zM367.4 795.1h10.0v10.0h-10.0zM368.7 795.5h10.0v10.0h-10.0zM370.0 796.0h10.0v10.0h-10.0zM371.3 795.3h10.0v10.0h-10.0zM372.6 795.1h10.0v10.0h-10.0zM373.9 795.1h10.0v10.0h-10.0zM375.2 795.9h10.0v10.0h-10.0zM376.5 795.3h10.0v10.0h-10.0zM377.8 795.5h10.0v10.0h-10.0zM379.1 796.3h10.0v10.0h-10.0zM380.4 795.9h10.0v10.0h-10.0zM381.7 794.6h10.0v10.0h-10.0zM383.0 796.1h10.0v10.0h-10.0zM384.3 795.4h10.0v10.0h-10.0zM385.6 794.7h10.0v10.0h-10.0zM386.9 795.8h10.0v10.0h-10.0zM388.2 795.6h10.0v10.0h-10.0zM389.5 796.0h10.0v10.0h-10.0zM390.8 795.2h10.0v10.0h-10.0zM392.1 796.2h10.0v10.0h-10.0zM393.4 795.3h10.0v10.0h-10.0zM394.7 796.0h10.0v10.0h-10.0zM396.0 795.4h10.0v10.0h-10.0zM397.3 796.5h10.0v10.0h-10.0zM398.6 796.2h10.0v10.0h-10.0zM399.9 795.0h10.0v10.0h-10.0zM401.2 795.2h10.0v10.0h-10.0zM402.5 797.3h10.0v10.0h-10.0zM403.8 794.7h10.0v10.0h-10.0zM405.1 796.0h10.0v10.0h-10.0zM406.4 795.1h10.0v10.0h-10.0zM407.6 795.0h10.0v10.0h-10.0zM408.9 795.7h10.0v10.0h-10.0zM410.2 795.8h10.0v10.0h-10.0zM411.5 796.7h10.0v10.0h-10.0zM412.8 795.3h10.0v10.0h-10.0zM414.1 794.6h10.0v10.0h-10.0zM415.4 796.3h10.0v10.0h-10.0zM416.7 795.0h10.0v10.0h-10.0zM418.0 795.2h10.0v10.0h-10.0zM419.3 795.1h10.0v10.0h-10.0zM420.6 796.2h10.0v10.0h-10.0zM421.9 795.7h10.0v10.0h-10.0zM423.2 795.5h10.0v10.0h-10.0zM424.5 794.7h10.0v10.0h-10.0zM425.8 796.2h10.0v10.0h-10.0zM427.1 795.9h10.0v10.0h-10.0zM428.4 796.1h10.0v10.0h-10.0zM429.7 795.2h10.0v10.0h-10.0zM431.0 796.5h10.0v10.0h-10.0zM432.3 795.8h10.0v10.0h-10.0zM433.6 796.4h10.0v10.0h-10.0zM434.9 795.8h10.0v10.0h-10.0zM436.2 795.2h10.0v10.0h-10.0zM437.5 796.0h10.0v10.0h-10.0zM438.8 795.3h10.0v10.0h-10.0zM440.1 795.9h10.0v10.0h-10.0zM441.4 795.7h10.0v10.0h-10.0zM442.7 795.8h10.0v10.0h-10.0zM444.0 796.2h10.0v10.0h-10.0zM445.3 795.5h10.0v10.0h-10.0zM446.6 795.3h10.0v10.0h-10.0zM447.9 796.1h10.0v10.0h-10.0zM449.2 795.3h10.0v10.0h-10.0zM450.5 795.7h10.0v10.0h-10.0zM451.8 796.0h10.0v10.0h-10.0zM453.1 795.6h10.0v10.0h-10.0zM454.4 795.3h10.0v10.0h-10.0zM455.7 795.3h10.0v10.0h-10.0zM457.0 794.9h10.0v10.0h-10.0zM458.3 795.6h10.0v10.0h-10.0zM459.6 795.6h10.0v10.0h-10.0zM460.9 796.6h10.0v10.0h-10.0zM462.2 796.0h10.0v10.0h-10.0zM463.5 795.4h10.0v10.0h-10.0zM464.8 796.4h10.0v10.0h-10.0zM466.1 796.3h10.0v10.0h-10.0zM467.4 794.8h10.0v10.0h-10.0zM468.7 795.8h10.0v10.0h-10.0zM470.0 796.4h10.0v10.0h-10.0zM471.3 796.9h10.0v10.0h-10.0zM472.6 796.3h10.0v10.0h-10.0zM473.9 794.5h10.0v10.0h-10.0zM475.2 795.8h10.0v10.0h-10.0zM476.5 795.4h10.0v10.0h-10.0zM477.8 795.4h10.0v10.0h-10.0zM479.1 796.1h10.0v10.0h-10.0zM480.4 795.6h10.0v10.0h-10.0zM481.7 795.8h10.0v10.0h-10.0zM483.0 796.0h10.0v10.0h-10.0zM484.3 795.2h10.0v10.0h-10.0zM485.6 796.3h10.0v10.0h-10.0zM486.9 796.2h10.0v10.0h-10.0zM488.2 796.2h10.0v10.0h-10.0zM489.5 795.2h10.0v10.0h-10.0zM490.8 796.1h10.0v10.0h-10.0zM492.1 794.8h10.0v10.0h-10.0zM493.4 796.6h10.0v10.0h-10.0zM494.7 796.4h10.0v10.0h-10.0zM496.0 797.3h10.0v10.0h-10.0zM497.3 796.4h10.0v10.0h-10.0zM498.6 795.8h10.0v10.0h-10.0zM499.9 795.5h10.0v10.0h-10.0zM501.2 796.4h10.0v10.0h-10.0zM502.5 796.1h10.0v10.0h-10.0zM503.8 795.1h10.0v10.0h-10.0zM505.1 796.1h10.0v10.0h-10.0zM506.4 795.8h10.0v10.0h-10.0zM507.7 795.5h10.0v10.0h-10.0zM509.0 796.4h10.0v10.0h-10.0zM510.3 795.2h10.0v10.0h-10.0zM511.6 796.0h10.0v10.0h-10.0zM512.9 795.5h10.0v10.0h-10.0zM514.2 796.0h10.0v10.0h-10.0zM515.5 795.7h10.0v10.0h-10.0zM516.8 795.2h10.0v10.0h-10.0zM518.1 795.8h10.0v10.0h-10.0zM519.4 796.9h10.0v10.0h-10.0zM520.7 796.0h10.0v10.0h-10.0zM522.0 796.1h10.0v10.0h-10.0zM523.3 796.0h10.0v10.0h-10.0zM524.6 795.8h10.0v10.0h-10.0zM525.9 796.8h10.0v10.0h-10.0zM527.1 794.9h10.0v10.0h-10.0zM528.4 796.4h10.0v10.0h-10.0zM529.7 795.2h10.0v10.0h-10.0zM531.0 796.1h10.0v10.0h-10.0zM532.3 796.1h10.0v10.0h-10.0zM533.6 796.0h10.0v10.0h-10.0zM534.9 796.1h10.0v10.0h-10.0zM536.2 795.6h10.0v10.0h-10.0zM537.5 795.2h10.0v10.0h-10.0zM538.8 794.9h10.0v10.0h-10.0zM540.1 794.9h10.0v10.0h-10.0zM541.4 796.6h10.0v10.0h-10.0zM542.7 795.6h10.0v10.0h-10.0zM544.0 795.7h10.0v10.0h-10.0zM545.3 796.0h10.0v10.0h-10.0zM546.6 795.8h10.0v10.0h-10.0zM547.9 795.9h10.0v10.0h-10.0zM549.2 796.6h10.0v10.0h-10.0zM550.5 796.4h10.0v10.0h-10.0zM551.8 795.4h10.0v10.0h-10.0zM553.1 796.0h10.0v10.0h-10.0zM554.4 795.2h10.0v10.0h-10.0zM555.7 796.2h10.0v10.0h-10.0zM557.0 796.3h10.0v10.0h-10.0zM558.3 795.9h10.0v10.0h-10.0zM559.6 795.9h10.0v10.0h-10.0zM560.9 795.4h10.0v10.0h-10.0zM562.2 796.2h10.0v10.0h-10.0zM563.5 795.5h10.0v10.0h-10.0zM564.8 795.7h10.0v10.0h-10.0zM566.1 796.4h10.0v10.0h-10.0zM567.4 796.0h10.0v10.0h-10.0zM568.7 796.0h10.0v10.0h-10.0zM570.0 795.4h10.0v10.0h-10.0zM571.3 795.3h10.0v10.0h-10.0zM572.6 795.6h10.0v10.0h-10.0zM573.9 796.2h10.0v10.0h-10.0zM575.2 795.6h10.0v10.0h-10.0zM576.5 795.9h10.0v10.0h-10.0zM577.8 796.3h10.0v10.0h-10.0zM579.1 795.6h10.0v10.0h-10.0zM580.4 796.4h10.0v10.0h-10.0zM581.7 796.1h10.0v10.0h-10.0zM583.0 796.5h10.0v10.0h-10.0zM584.3 796.7h10.0v10.0h-10.0zM585.6 795.8h10.0v10.0h-10.0zM586.9 796.8h10.0v10.0h-10.0zM588.2 796.3h10.0v10.0h-10.0zM589.5 796.2h10.0v10.0h-10.0zM590.8 795.7h10.0v10.0h-10.0zM592.1 796.3h10.0v10.0h-10.0zM593.4 795.6h10.0v10.0h-10.0zM594.7 796.4h10.0v10.0h-10.0zM596.0 796.4h10.0v10.0h-10.0zM597.3 796.4h10.0v10.0h-10.0zM598.6 796.3h10.0v10.0h-10.0zM599.9 796.4h10.0v10.0h-10.0zM601.2 796.8h10.0v10.0h-10.0zM602.5 796.4h10.0v10.0h-10.0zM603.8 796.5h10.0v10.0h-10.0zM605.1 795.4h10.0v10.0h-10.0zM606.4 796.6h10.0v10.0h-10.0zM607.7 795.8h10.0v10.0h-10.0zM609.0 796.5h10.0v10.0h-10.0zM610.3 795.5h10.0v10.0h-10.0zM611.6 796.1h10.0v10.0h-10.0zM612.9 796.3h10.0v10.0h-10.0zM614.2 795.4h10.0v10.0h-10.0zM615.5 795.2h10.0v10.0h-10.0zM616.8 795.2h10.0v10.0h-10.0zM618.1 795.5h10.0v10.0h-10.0zM619.4 796.0h10.0v10.0h-10.0zM620.7 796.4h10.0v10.0h-10.0zM622.0 796.3h10.0v10.0h-10.0zM623.3 796.3h10.0v10.0h-10.0zM624.6 795.7h10.0v10.0h-10.0zM625.9 796.3h10.0v10.0h-10.0zM627.2 795.9h10.0v10.0h-10.0zM628.5 795.9h10.0v10.0h-10.0zM629.8 796.1h10.0v10.0h-10.0zM631.1 796.4h10.0v10.0h-10.0zM632.4 796.6h10.0v10.0h-10.0zM633.7 794.6h10.0v10.0h-10.0zM635.0 796.1h10.0v10.0h-10.0zM636.3 796.9h10.0v10.0h-10.0zM637.6 796.7h10.0v10.0h-10.0zM638.9 796.4h10.0v10.0h-10.0zM640.2 795.0h10.0v10.0h-10.0zM641.5 796.0h10.0v10.0h-10.0zM642.8 796.5h10.0v10.0h-10.0zM644.1 795.1h10.0v10.0h-10.0zM645.4 797.1h10.0v10.0h-10.0zM646.6 795.4h10.0v10.0h-10.0zM647.9 794.5h10.0v10.0h-10.0zM649.2 796.0h10.0v10.0h-10.0zM650.5 795.5h10.0v10.0h-10.0zM651.8 795.7h10.0v10.0h-10.0zM653.1 797.6h10.0v10.0h-10.0zM654.4 795.9h10.0v10.0h-10.0zM655.7 796.4h10.0v10.0h-10.0zM657.0 797.6h10.0v10.0h-10.0zM658.3 795.6h10.0v10.0h-10.0zM659.6 796.4h10.0v10.0h-10.0zM660.9 795.9h10.0v10.0h-10.0zM662.2 795.8h10.0v10.0h-10.0zM663.5 796.4h10.0v10.0h-10.0zM664.8 797.4h10.0v10.0h-10.0zM666.1 796.3h10.0v10.0h-10.0zM667.4 796.5h10.0v10.0h-10.0zM668.7 796.7h10.0v10.0h-10.0zM670.0 796.5h10.0v10.0h-10.0zM671.3 796.1h10.0v10.0h-10.0zM672.6 795.2h10.0v10.0h-10.0zM673.9 796.0h10.0v10.0h-10.0zM675.2 796.0h10.0v10.0h-10.0zM676.5 795.5h10.0v10.0h-10.0zM677.8 795.8h10.0v10.0h-10.0z"/><g fill="#ff8108"><circle cx="116.3" cy="515.1" r="5.9"/><circle cx="116.3" cy="546.8" r="5.9"/><circle cx="121.4" cy="562.1" r="5.9"/><circle cx="121.6" cy="577.3" r="5.9"/><circle cx="122.0" cy="594.8" r="5.9"/><circle cx="124.6" cy="607.3" r="5.9"/><circle cx="132.5" cy="634.1" r="5.9"/><circle cx="128.5" cy="655.9" r="5.9"/><circle cx="131.4" cy="667.9" r="5.9"/><circle cx="134.2" cy="674.7" r="5.9"/><circle cx="135.5" cy="679.5" r="5.9"/><circle cx="136.8" cy="685.6" r="5.9"/><circle cx="138.1" cy="691.2" r="5.9"/><circle cx="139.4" cy="699.1" r="5.9"/><circle cx="140.7" cy="705.7" r="5.9"/><circle cx="142.0" cy="711.1" r="5.9"/><circle cx="143.3" cy="717.4" r="5.9"/><circle cx="144.6" cy="721.1" r="5.9"/><circle cx="145.9" cy="726.1" r="5.9"/><circle cx="147.2" cy="729.8" r="5.9"/><circle cx="148.5" cy="733.0" r="5.9"/><circle cx="149.8" cy="737.6" r="5.9"/><circle cx="151.1" cy="738.5" r="5.9"/><circle cx="152.4" cy="741.9" r="5.9"/><circle cx="153.7" cy="745.2" r="5.9"/><circle cx="155.0" cy="750.3" r="5.9"/><circle cx="156.3" cy="739.5" r="5.9"/><circle cx="157.6" cy="751.7" r="5.9"/><circle cx="158.9" cy="757.1" r="5.9"/><circle cx="160.2" cy="753.6" r="5.9"/><circle cx="161.5" cy="756.6" r="5.9"/><circle cx="162.8" cy="747.0" r="5.9"/><circle cx="164.1" cy="752.2" r="5.9"/><circle cx="165.4" cy="756.2" r="5.9"/><circle cx="166.7" cy="761.3" r="5.9"/><circle cx="168.0" cy="761.4" r="5.9"/><circle cx="169.3" cy="756.6" r="5.9"/><circle cx="170.6" cy="755.2" r="5.9"/><circle cx="171.9" cy="762.3" r="5.9"/><circle cx="173.2" cy="753.7" r="5.9"/><circle cx="174.5" cy="756.4" r="5.9"/><circle cx="175.8" cy="763.3" r="5.9"/><circle cx="177.1" cy="759.8" r="5.9"/><circle cx="178.4" cy="766.7" r="5.9"/><circle cx="179.7" cy="760.5" r="5.9"/><circle cx="181.0" cy="759.7" r="5.9"/><circle cx="182.3" cy="765.0" r="5.9"/><circle cx="183.6" cy="758.3" r="5.9"/><circle cx="184.9" cy="764.3" r="5.9"/><circle cx="186.2" cy="760.1" r="5.9"/><circle cx="187.5" cy="765.0" r="5.9"/><circle cx="188.8" cy="755.4" r="5.9"/><circle cx="190.1" cy="767.9" r="5.9"/><circle cx="191.4" cy="767.2" r="5.9"/><circle cx="192.7" cy="752.2" r="5.9"/><circle cx="194.0" cy="766.4" r="5.9"/><circle cx="195.3" cy="764.1" r="5.9"/><circle cx="196.6" cy="770.9" r="5.9"/><circle cx="197.9" cy="768.6" r="5.9"/><circle cx="199.2" cy="768.1" r="5.9"/><circle cx="200.5" cy="770.0" r="5.9"/><circle cx="201.8" cy="763.8" r="5.9"/><circle cx="203.1" cy="771.0" r="5.9"/><circle cx="204.4" cy="769.4" r="5.9"/><circle cx="205.7" cy="761.5" r="5.9"/><circle cx="207.0" cy="768.3" r="5.9"/><circle cx="208.3" cy="763.4" r="5.9"/><circle cx="209.6" cy="774.8" r="5.9"/><circle cx="210.9" cy="771.5" r="5.9"/><circle cx="212.2" cy="768.6" r="5.9"/><circle cx="213.5" cy="773.6" r="5.9"/><circle cx="214.8" cy="777.7" r="5.9"/><circle cx="216.1" cy="770.2" r="5.9"/><circle cx="217.4" cy="775.4" r="5.9"/><circle cx="218.7" cy="777.5" r="5.9"/><circle cx="220.0" cy="775.8" r="5.9"/><circle cx="221.3" cy="770.7" r="5.9"/><circle cx="222.6" cy="770.1" r="5.9"/><circle cx="223.9" cy="774.2" r="5.9"/><circle cx="225.2" cy="773.1" r="5.9"/><circle cx="226.5" cy="778.8" r="5.9"/><circle cx="227.8" cy="775.9" r="5.9"/><circle cx="229.1" cy="778.1" r="5.9"/><circle cx="230.4" cy="780.3" r="5.9"/><circle cx="231.7" cy="775.8" r="5.9"/><circle cx="233.0" cy="778.9" r="5.9"/><circle cx="234.3" cy="778.6" r="5.9"/><circle cx="235.6" cy="774.9" r="5.9"/><circle cx="236.9" cy="778.2" r="5.9"/><circle cx="238.2" cy="763.6" r="5.9"/><circle cx="239.5" cy="780.4" r="5.9"/><circle cx="240.8" cy="781.0" r="5.9"/><circle cx="242.1" cy="777.9" r="5.9"/><circle cx="243.4" cy="778.2" r="5.9"/><circle cx="244.7" cy="780.9" r="5.9"/><circle cx="245.9" cy="782.8" r="5.9"/><circle cx="247.2" cy="784.2" r="5.9"/><circle cx="248.5" cy="779.6" r="5.9"/><circle cx="249.8" cy="775.1" r="5.9"/><circle cx="251.1" cy="776.4" r="5.9"/><circle cx="252.4" cy="773.6" r="5.9"/><circle cx="253.7" cy="781.5" r="5.9"/><circle cx="255.0" cy="779.0" r="5.9"/><circle cx="256.3" cy="763.8" r="5.9"/><circle cx="257.6" cy="773.3" r="5.9"/><circle cx="258.9" cy="773.3" r="5.9"/><circle cx="260.2" cy="775.7" r="5.9"/><circle cx="261.5" cy="782.8" r="5.9"/><circle cx="262.8" cy="783.7" r="5.9"/><circle cx="264.1" cy="773.0" r="5.9"/><circle cx="265.4" cy="781.5" r="5.9"/><circle cx="266.7" cy="776.1" r="5.9"/><circle cx="268.0" cy="783.1" r="5.9"/><circle cx="269.3" cy="779.9" r="5.9"/><circle cx="270.6" cy="781.2" r="5.9"/><circle cx="271.9" cy="773.9" r="5.9"/><circle cx="273.2" cy="778.8" r="5.9"/><circle cx="274.5" cy="774.4" r="5.9"/><circle cx="275.8" cy="780.0" r="5.9"/><circle cx="277.1" cy="779.6" r="5.9"/><circle cx="278.4" cy="778.0" r="5.9"/><circle cx="279.7" cy="775.8" r="5.9"/><circle cx="281.0" cy="775.5" r="5.9"/><circle cx="282.3" cy="787.4" r="5.9"/><circle cx="283.6" cy="777.8" r="5.9"/><circle cx="284.9" cy="783.8" r="5.9"/><circle cx="286.2" cy="785.1" r="5.9"/><circle cx="287.5" cy="781.1" r="5.9"/><circle cx="288.8" cy="777.8" r="5.9"/><circle cx="290.1" cy="788.8" r="5.9"/><circle cx="291.4" cy="782.5" r="5.9"/><circle cx="292.7" cy="788.9" r="5.9"/><circle cx="294.0" cy="789.8" r="5.9"/><circle cx="295.3" cy="789.1" r="5.9"/><circle cx="296.6" cy="785.2" r="5.9"/><circle cx="297.9" cy="787.2" r="5.9"/><circle cx="299.2" cy="785.9" r="5.9"/><circle cx="300.5" cy="782.6" r="5.9"/><circle cx="301.8" cy="784.4" r="5.9"/><circle cx="303.1" cy="781.4" r="5.9"/><circle cx="304.4" cy="787.7" r="5.9"/><circle cx="305.7" cy="786.5" r="5.9"/><circle cx="307.0" cy="786.7" r="5.9"/><circle cx="308.3" cy="794.4" r="5.9"/><circle cx="309.6" cy="794.7" r="5.9"/><circle cx="310.9" cy="792.5" r="5.9"/><circle cx="312.2" cy="794.8" r="5.9"/><circle cx="313.5" cy="788.7" r="5.9"/><circle cx="314.8" cy="787.6" r="5.9"/><circle cx="316.1" cy="789.8" r="5.9"/><circle cx="317.4" cy="792.3" r="5.9"/><circle cx="318.7" cy="791.9" r="5.9"/><circle cx="320.0" cy="792.1" r="5.9"/><circle cx="321.3" cy="791.0" r="5.9"/><circle cx="322.6" cy="793.7" r="5.9"/><circle cx="323.9" cy="795.3" r="5.9"/><circle cx="325.2" cy="794.8" r="5.9"/><circle cx="326.5" cy="798.8" r="5.9"/><circle cx="327.8" cy="798.3" r="5.9"/><circle cx="329.1" cy="798.1" r="5.9"/><circle cx="330.4" cy="789.6" r="5.9"/><circle cx="331.7" cy="799.6" r="5.9"/><circle cx="333.0" cy="795.9" r="5.9"/><circle cx="334.3" cy="797.9" r="5.9"/><circle cx="335.6" cy="796.9" r="5.9"/><circle cx="336.9" cy="798.8" r="5.9"/><circle cx="338.2" cy="798.0" r="5.9"/><circle cx="339.5" cy="792.3" r="5.9"/><circle cx="340.8" cy="796.4" r="5.9"/><circle cx="342.1" cy="799.0" r="5.9"/><circle cx="343.4" cy="795.2" r="5.9"/><circle cx="344.7" cy="793.9" r="5.9"/><circle cx="346.0" cy="799.1" r="5.9"/><circle cx="347.3" cy="801.8" r="5.9"/><circle cx="348.6" cy="800.2" r="5.9"/><circle cx="349.9" cy="802.4" r="5.9"/><circle cx="351.2" cy="800.7" r="5.9"/><circle cx="352.5" cy="803.1" r="5.9"/><circle cx="353.8" cy="802.0" r="5.9"/><circle cx="355.1" cy="803.4" r="5.9"/><circle cx="356.4" cy="800.2" r="5.9"/><circle cx="357.7" cy="800.6" r="5.9"/><circle cx="359.0" cy="808.8" r="5.9"/><circle cx="360.3" cy="801.8" r="5.9"/><circle cx="361.6" cy="802.1" r="5.9"/><circle cx="362.9" cy="799.5" r="5.9"/><circle cx="364.2" cy="802.2" r="5.9"/><circle cx="365.4" cy="803.2" r="5.9"/><circle cx="366.7" cy="801.9" r="5.9"/><circle cx="368.0" cy="807.3" r="5.9"/><circle cx="369.3" cy="800.8" r="5.9"/><circle cx="370.6" cy="802.3" r="5.9"/><circle cx="371.9" cy="804.5" r="5.9"/><circle cx="373.2" cy="800.1" r="5.9"/><circle cx="374.5" cy="799.0" r="5.9"/><circle cx="375.8" cy="806.0" r="5.9"/><circle cx="377.1" cy="804.4" r="5.9"/><circle cx="378.4" cy="802.3" r="5.9"/><circle cx="379.7" cy="802.5" r="5.9"/><circle cx="381.0" cy="803.8" r="5.9"/><circle cx="382.3" cy="805.0" r="5.9"/><circle cx="383.6" cy="798.2" r="5.9"/><circle cx="384.9" cy="800.6" r="5.9"/><circle cx="386.2" cy="805.4" r="5.9"/><circle cx="387.5" cy="805.7" r="5.9"/><circle cx="388.8" cy="799.1" r="5.9"/><circle cx="390.1" cy="800.6" r="5.9"/><circle cx="391.4" cy="798.8" r="5.9"/><circle cx="392.7" cy="801.0" r="5.9"/><circle cx="394.0" cy="804.6" r="5.9"/><circle cx="395.3" cy="802.1" r="5.9"/><circle cx="396.6" cy="807.4" r="5.9"/><circle cx="397.9" cy="804.4" r="5.9"/><circle cx="399.2" cy="802.9" r="5.9"/><circle cx="400.5" cy="801.6" r="5.9"/><circle cx="401.8" cy="804.3" r="5.9"/><circle cx="403.1" cy="803.0" r="5.9"/><circle cx="404.4" cy="801.8" r="5.9"/><circle cx="405.7" cy="801.9" r="5.9"/><circle cx="407.0" cy="801.4" r="5.9"/><circle cx="408.3" cy="802.3" r="5.9"/><circle cx="409.6" cy="803.5" r="5.9"/><circle cx="410.9" cy="801.1" r="5.9"/><circle cx="412.2" cy="802.7" r="5.9"/><circle cx="413.5" cy="804.6" r="5.9"/><circle cx="414.8" cy="804.2" r="5.9"/><circle cx="416.1" cy="802.8" r="5.9"/><circle cx="417.4" cy="803.1" r="5.9"/><circle cx="418.7" cy="802.5" r="5.9"/><circle cx="420.0" cy="802.8" r="5.9"/><circle cx="421.3" cy="802.5" r="5.9"/><circle cx="422.6" cy="803.1" r="5.9"/><circle cx="423.9" cy="805.6" r="5.9"/><circle cx="425.2" cy="801.9" r="5.9"/><circle cx="426.5" cy="800.6" r="5.9"/><circle cx="427.8" cy="801.9" r="5.9"/><circle cx="429.1" cy="803.3" r="5.9"/><circle cx="430.4" cy="801.9" r="5.9"/><circle cx="431.7" cy="805.0" r="5.9"/><circle cx="433.0" cy="807.0" r="5.9"/><circle cx="434.3" cy="802.8" r="5.9"/><circle cx="435.6" cy="804.9" r="5.9"/><circle cx="436.9" cy="801.3" r="5.9"/><circle cx="438.2" cy="805.3" r="5.9"/><circle cx="439.5" cy="808.7" r="5.9"/><circle cx="440.8" cy="805.2" r="5.9"/><circle cx="442.1" cy="799.5" r="5.9"/><circle cx="443.4" cy="803.8" r="5.9"/><circle cx="444.7" cy="805.9" r="5.9"/><circle cx="446.0" cy="804.6" r="5.9"/><circle cx="447.3" cy="801.8" r="5.9"/><circle cx="448.6" cy="801.9" r="5.9"/><circle cx="449.9" cy="802.6" r="5.9"/><circle cx="451.2" cy="799.7" r="5.9"/><circle cx="452.5" cy="801.4" r="5.9"/><circle cx="453.8" cy="803.0" r="5.9"/><circle cx="455.1" cy="801.7" r="5.9"/><circle cx="456.4" cy="799.4" r="5.9"/><circle cx="457.7" cy="800.9" r="5.9"/><circle cx="459.0" cy="800.8" r="5.9"/><circle cx="460.3" cy="805.4" r="5.9"/><circle cx="461.6" cy="803.4" r="5.9"/><circle cx="462.9" cy="801.4" r="5.9"/><circle cx="464.2" cy="803.7" r="5.9"/><circle cx="465.5" cy="800.7" r="5.9"/><circle cx="466.8" cy="801.8" r="5.9"/><circle cx="468.1" cy="801.1" r="5.9"/><circle cx="469.4" cy="803.5" r="5.9"/><circle cx="470.7" cy="797.5" r="5.9"/><circle cx="472.0" cy="800.4" r="5.9"/><circle cx="473.3" cy="803.6" r="5.9"/><circle cx="474.6" cy="802.9" r="5.9"/><circle cx="475.9" cy="797.4" r="5.9"/><circle cx="477.2" cy="803.9" r="5.9"/><circle cx="478.5" cy="801.2" r="5.9"/><circle cx="479.8" cy="801.0" r="5.9"/><circle cx="481.1" cy="803.1" r="5.9"/><circle cx="482.4" cy="805.7" r="5.9"/><circle cx="483.7" cy="802.7" r="5.9"/><circle cx="484.9" cy="802.4" r="5.9"/><circle cx="486.2" cy="800.7" r="5.9"/><circle cx="487.5" cy="801.4" r="5.9"/><circle cx="488.8" cy="803.1" r="5.9"/><circle cx="490.1" cy="801.3" r="5.9"/><circle cx="491.4" cy="802.0" r="5.9"/><circle cx="492.7" cy="802.7" r="5.9"/><circle cx="494.0" cy="803.1" r="5.9"/><circle cx="495.3" cy="803.7" r="5.9"/><circle cx="496.6" cy="801.7" r="5.9"/><circle cx="497.9" cy="805.5" r="5.9"/><circle cx="499.2" cy="804.6" r="5.9"/><circle cx="500.5" cy="803.2" r="5.9"/><circle cx="501.8" cy="806.4" r="5.9"/><circle cx="503.1" cy="804.2" r="5.9"/><circle cx="504.4" cy="807.6" r="5.9"/><circle cx="505.7" cy="804.7" r="5.9"/><circle cx="507.0" cy="802.0" r="5.9"/><circle cx="508.3" cy="802.0" r="5.9"/><circle cx="509.6" cy="803.4" r="5.9"/><circle cx="510.9" cy="803.8" r="5.9"/><circle cx="512.2" cy="806.4" r="5.9"/><circle cx="513.5" cy="799.3" r="5.9"/><circle cx="514.8" cy="802.1" r="5.9"/><circle cx="516.1" cy="800.9" r="5.9"/><circle cx="517.4" cy="805.2" r="5.9"/><circle cx="518.7" cy="803.7" r="5.9"/><circle cx="520.0" cy="807.3" r="5.9"/><circle cx="521.3" cy="801.6" r="5.9"/><circle cx="522.6" cy="801.3" r="5.9"/><circle cx="523.9" cy="807.4" r="5.9"/><circle cx="525.2" cy="803.4" r="5.9"/><circle cx="526.5" cy="801.9" r="5.9"/><circle cx="527.8" cy="807.2" r="5.9"/><circle cx="529.1" cy="807.3" r="5.9"/><circle cx="530.4" cy="805.6" r="5.9"/><circle cx="531.7" cy="804.7" r="5.9"/><circle cx="533.0" cy="806.4" r="5.9"/><circle cx="534.3" cy="803.3" r="5.9"/><circle cx="535.6" cy="802.8" r="5.9"/><circle cx="536.9" cy="802.0" r="5.9"/><circle cx="538.2" cy="801.8" r="5.9"/><circle cx="539.5" cy="800.1" r="5.9"/><circle cx="540.8" cy="800.8" r="5.9"/><circle cx="542.1" cy="806.2" r="5.9"/><circle cx="543.4" cy="804.5" r="5.9"/><circle cx="544.7" cy="805.7" r="5.9"/><circle cx="546.0" cy="805.7" r="5.9"/><circle cx="547.3" cy="803.6" r="5.9"/><circle cx="548.6" cy="803.4" r="5.9"/><circle cx="549.9" cy="802.3" r="5.9"/><circle cx="551.2" cy="806.9" r="5.9"/><circle cx="552.5" cy="806.1" r="5.9"/><circle cx="553.8" cy="803.4" r="5.9"/><circle cx="555.1" cy="803.8" r="5.9"/><circle cx="556.4" cy="804.1" r="5.9"/><circle cx="557.7" cy="803.5" r="5.9"/><circle cx="559.0" cy="805.1" r="5.9"/><circle cx="560.3" cy="801.9" r="5.9"/><circle cx="561.6" cy="800.3" r="5.9"/><circle cx="562.9" cy="807.4" r="5.9"/><circle cx="564.2" cy="800.2" r="5.9"/><circle cx="565.5" cy="797.0" r="5.9"/><circle cx="566.8" cy="803.5" r="5.9"/><circle cx="568.1" cy="805.0" r="5.9"/><circle cx="569.4" cy="803.7" r="5.9"/><circle cx="570.7" cy="801.0" r="5.9"/><circle cx="572.0" cy="799.8" r="5.9"/><circle cx="573.3" cy="801.9" r="5.9"/><circle cx="574.6" cy="801.5" r="5.9"/><circle cx="575.9" cy="809.2" r="5.9"/><circle cx="577.2" cy="808.2" r="5.9"/><circle cx="578.5" cy="806.8" r="5.9"/><circle cx="579.8" cy="800.2" r="5.9"/><circle cx="581.1" cy="806.1" r="5.9"/><circle cx="582.4" cy="802.6" r="5.9"/><circle cx="583.7" cy="810.1" r="5.9"/><circle cx="585.0" cy="809.4" r="5.9"/><circle cx="586.3" cy="806.6" r="5.9"/><circle cx="587.6" cy="801.2" r="5.9"/><circle cx="588.9" cy="800.9" r="5.9"/><circle cx="590.2" cy="801.1" r="5.9"/><circle cx="591.5" cy="806.3" r="5.9"/><circle cx="592.8" cy="803.3" r="5.9"/><circle cx="594.1" cy="804.0" r="5.9"/><circle cx="595.4" cy="804.0" r="5.9"/><circle cx="596.7" cy="808.7" r="5.9"/><circle cx="598.0" cy="798.2" r="5.9"/><circle cx="599.3" cy="807.6" r="5.9"/><circle cx="600.6" cy="797.1" r="5.9"/><circle cx="601.9" cy="797.6" r="5.9"/><circle cx="603.2" cy="810.1" r="5.9"/><circle cx="604.5" cy="804.1" r="5.9"/><circle cx="605.7" cy="799.2" r="5.9"/><circle cx="607.0" cy="797.2" r="5.9"/><circle cx="608.3" cy="804.3" r="5.9"/><circle cx="609.6" cy="806.7" r="5.9"/><circle cx="610.9" cy="807.5" r="5.9"/><circle cx="612.2" cy="797.6" r="5.9"/><circle cx="613.5" cy="807.5" r="5.9"/><circle cx="614.8" cy="802.8" r="5.9"/><circle cx="616.1" cy="804.7" r="5.9"/><circle cx="617.4" cy="804.2" r="5.9"/><circle cx="618.7" cy="808.9" r="5.9"/><circle cx="620.0" cy="804.4" r="5.9"/><circle cx="621.3" cy="800.9" r="5.9"/><circle cx="622.6" cy="800.6" r="5.9"/><circle cx="623.9" cy="808.2" r="5.9"/><circle cx="625.2" cy="803.9" r="5.9"/><circle cx="626.5" cy="804.1" r="5.9"/><circle cx="627.8" cy="805.2" r="5.9"/><circle cx="629.1" cy="801.6" r="5.9"/><circle cx="630.4" cy="805.2" r="5.9"/><circle cx="631.7" cy="803.5" r="5.9"/><circle cx="633.0" cy="803.6" r="5.9"/><circle cx="634.3" cy="806.0" r="5.9"/><circle cx="635.6" cy="803.5" r="5.9"/><circle cx="636.9" cy="802.7" r="5.9"/><circle cx="638.2" cy="801.2" r="5.9"/><circle cx="639.5" cy="803.6" r="5.9"/><circle cx="640.8" cy="804.5" r="5.9"/><circle cx="642.1" cy="795.7" r="5.9"/><circle cx="643.4" cy="802.4" r="5.9"/><circle cx="644.7" cy="802.2" r="5.9"/><circle cx="646.0" cy="790.2" r="5.9"/><circle cx="647.3" cy="800.4" r="5.9"/><circle cx="648.6" cy="800.4" r="5.9"/><circle cx="649.9" cy="801.7" r="5.9"/><circle cx="651.2" cy="802.2" r="5.9"/><circle cx="652.5" cy="802.2" r="5.9"/><circle cx="653.8" cy="804.4" r="5.9"/><circle cx="655.1" cy="804.0" r="5.9"/><circle cx="656.4" cy="801.1" r="5.9"/><circle cx="657.7" cy="803.0" r="5.9"/><circle cx="659.0" cy="801.8" r="5.9"/><circle cx="660.3" cy="799.4" r="5.9"/><circle cx="661.6" cy="805.0" r="5.9"/><circle cx="662.9" cy="800.0" r="5.9"/><circle cx="664.2" cy="802.2" r="5.9"/><circle cx="665.5" cy="798.8" r="5.9"/><circle cx="666.8" cy="798.5" r="5.9"/><circle cx="668.1" cy="803.2" r="5.9"/><circle cx="669.4" cy="801.1" r="5.9"/><circle cx="670.7" cy="809.2" r="5.9"/><circle cx="672.0" cy="801.0" r="5.9"/><circle cx="673.3" cy="804.4" r="5.9"/><circle cx="674.6" cy="800.8" r="5.9"/><circle cx="675.9" cy="802.1" r="5.9"/><circle cx="677.2" cy="806.4" r="5.9"/><circle cx="678.5" cy="809.2" r="5.9"/><circle cx="679.8" cy="798.7" r="5.9"/><circle cx="681.1" cy="808.3" r="5.9"/><circle cx="682.4" cy="804.1" r="5.9"/></g><path fill="#cd0b0e" d="M125.5 589.9l7.2 7.2l-7.2 7.2l-7.2 -7.2zM118.3 604.6l7.2 7.2l-7.2 7.2l-7.2 -7.2zM124.0 606.1l7.2 7.2l-7.2 7.2l-7.2 -7.2zM128.0 612.4l7.2 7.2l-7.2 7.2l-7.2 -7.2zM121.7 613.8l7.2 7.2l-7.2 7.2l-7.2 -7.2zM128.8 621.2l7.2 7.2l-7.2 7.2l-7.2 -7.2zM121.1 622.5l7.2 7.2l-7.2 7.2l-7.2 -7.2zM129.4 629.8l7.2 7.2l-7.2 7.2l-7.2 -7.2zM130.7 634.6l7.2 7.2l-7.2 7.2l-7.2 -7.2zM132.0 635.2l7.2 7.2l-7.2 7.2l-7.2 -7.2zM133.3 638.9l7.2 7.2l-7.2 7.2l-7.2 -7.2zM134.6 642.6l7.2 7.2l-7.2 7.2l-7.2 -7.2zM135.9 646.0l7.2 7.2l-7.2 7.2l-7.2 -7.2zM137.2 643.3l7.2 7.2l-7.2 7.2l-7.2 -7.2zM138.5 647.5l7.2 7.2l-7.2 7.2l-7.2 -7.2zM139.8 653.0l7.2 7.2l-7.2 7.2l-7.2 -7.2zM141.1 647.9l7.2 7.2l-7.2 7.2l-7.2 -7.2zM142.4 649.6l7.2 7.2l-7.2 7.2l-7.2 -7.2zM143.7 650.8l7.2 7.2l-7.2 7.2l-7.2 -7.2zM145.0 660.7l7.2 7.2l-7.2 7.2l-7.2 -7.2zM146.3 654.9l7.2 7.2l-7.2 7.2l-7.2 -7.2zM147.6 665.3l7.2 7.2l-7.2 7.2l-7.2 -7.2zM148.9 662.0l7.2 7.2l-7.2 7.2l-7.2 -7.2zM150.2 661.2l7.2 7.2l-7.2 7.2l-7.2 -7.2zM151.5 670.8l7.2 7.2l-7.2 7.2l-7.2 -7.2zM152.8 670.1l7.2 7.2l-7.2 7.2l-7.2 -7.2zM154.1 665.2l7.2 7.2l-7.2 7.2l-7.2 -7.2zM155.4 669.1l7.2 7.2l-7.2 7.2l-7.2 -7.2zM156.7 668.4l7.2 7.2l-7.2 7.2l-7.2 -7.2zM158.0 677.9l7.2 7.2l-7.2 7.2l-7.2 -7.2zM159.3 672.7l7.2 7.2l-7.2 7.2l-7.2 -7.2zM160.6 673.9l7.2 7.2l-7.2 7.2l-7.2 -7.2zM161.9 671.8l7.2 7.2l-7.2 7.2l-7.2 -7.2zM163.2 681.2l7.2 7.2l-7.2 7.2l-7.2 -7.2zM164.5 680.4l7.2 7.2l-7.2 7.2l-7.2 -7.2zM165.8 680.0l7.2 7.2l-7.2 7.2l-7.2 -7.2zM167.1 684.4l7.2 7.2l-7.2 7.2l-7.2 -7.2zM168.4 676.3l7.2 7.2l-7.2 7.2l-7.2 -7.2zM169.7 689.4l7.2 7.2l-7.2 7.2l-7.2 -7.2zM171.0 681.1l7.2 7.2l-7.2 7.2l-7.2 -7.2zM172.3 689.1l7.2 7.2l-7.2 7.2l-7.2 -7.2zM173.6 689.6l7.2 7.2l-7.2 7.2l-7.2 -7.2zM174.9 681.3l7.2 7.2l-7.2 7.2l-7.2 -7.2zM176.2 688.6l7.2 7.2l-7.2 7.2l-7.2 -7.2zM177.5 687.2l7.2 7.2l-7.2 7.2l-7.2 -7.2zM178.8 688.3l7.2 7.2l-7.2 7.2l-7.2 -7.2zM180.1 692.7l7.2 7.2l-7.2 7.2l-7.2 -7.2zM181.4 696.2l7.2 7.2l-7.2 7.2l-7.2 -7.2zM182.7 693.5l7.2 7.2l-7.2 7.2l-7.2 -7.2zM184.0 697.8l7.2 7.2l-7.2 7.2l-7.2 -7.2zM185.3 699.3l7.2 7.2l-7.2 7.2l-7.2 -7.2zM186.6 696.4l7.2 7.2l-7.2 7.2l-7.2 -7.2zM187.9 700.0l7.2 7.2l-7.2 7.2l-7.2 -7.2zM189.2 702.2l7.2 7.2l-7.2 7.2l-7.2 -7.2zM190.4 700.5l7.2 7.2l-7.2 7.2l-7.2 -7.2zM191.7 704.9l7.2 7.2l-7.2 7.2l-7.2 -7.2zM193.0 698.4l7.2 7.2l-7.2 7.2l-7.2 -7.2zM194.3 704.8l7.2 7.2l-7.2 7.2l-7.2 -7.2zM195.6 703.4l7.2 7.2l-7.2 7.2l-7.2 -7.2zM196.9 706.3l7.2 7.2l-7.2 7.2l-7.2 -7.2zM198.2 706.1l7.2 7.2l-7.2 7.2l-7.2 -7.2zM199.5 707.5l7.2 7.2l-7.2 7.2l-7.2 -7.2zM200.8 706.5l7.2 7.2l-7.2 7.2l-7.2 -7.2zM202.1 706.9l7.2 7.2l-7.2 7.2l-7.2 -7.2zM203.4 709.5l7.2 7.2l-7.2 7.2l-7.2 -7.2zM204.7 710.1l7.2 7.2l-7.2 7.2l-7.2 -7.2zM206.0 709.7l7.2 7.2l-7.2 7.2l-7.2 -7.2zM207.3 707.2l7.2 7.2l-7.2 7.2l-7.2 -7.2zM208.6 710.0l7.2 7.2l-7.2 7.2l-7.2 -7.2zM209.9 712.0l7.2 7.2l-7.2 7.2l-7.2 -7.2zM211.2 713.0l7.2 7.2l-7.2 7.2l-7.2 -7.2zM212.5 709.5l7.2 7.2l-7.2 7.2l-7.2 -7.2zM213.8 714.3l7.2 7.2l-7.2 7.2l-7.2 -7.2zM215.1 714.9l7.2 7.2l-7.2 7.2l-7.2 -7.2zM216.4 715.4l7.2 7.2l-7.2 7.2l-7.2 -7.2zM217.7 716.3l7.2 7.2l-7.2 7.2l-7.2 -7.2zM219.0 715.9l7.2 7.2l-7.2 7.2l-7.2 -7.2zM220.3 715.9l7.2 7.2l-7.2 7.2l-7.2 -7.2zM221.6 716.2l7.2 7.2l-7.2 7.2l-7.2 -7.2zM222.9 717.9l7.2 7.2l-7.2 7.2l-7.2 -7.2zM224.2 718.5l7.2 7.2l-7.2 7.2l-7.2 -7.2zM225.5 720.2l7.2 7.2l-7.2 7.2l-7.2 -7.2zM226.8 718.5l7.2 7.2l-7.2 7.2l-7.2 -7.2zM228.1 718.2l7.2 7.2l-7.2 7.2l-7.2 -7.2zM229.4 718.5l7.2 7.2l-7.2 7.2l-7.2 -7.2zM230.7 718.4l7.2 7.2l-7.2 7.2l-7.2 -7.2zM232.0 721.0l7.2 7.2l-7.2 7.2l-7.2 -7.2zM233.3 720.9l7.2 7.2l-7.2 7.2l-7.2 -7.2zM234.6 722.0l7.2 7.2l-7.2 7.2l-7.2 -7.2zM235.9 720.4l7.2 7.2l-7.2 7.2l-7.2 -7.2zM237.2 721.8l7.2 7.2l-7.2 7.2l-7.2 -7.2zM238.5 717.6l7.2 7.2l-7.2 7.2l-7.2 -7.2zM239.8 720.8l7.2 7.2l-7.2 7.2l-7.2 -7.2zM241.1 722.7l7.2 7.2l-7.2 7.2l-7.2 -7.2zM242.4 720.8l7.2 7.2l-7.2 7.2l-7.2 -7.2zM243.7 723.3l7.2 7.2l-7.2 7.2l-7.2 -7.2zM245.0 721.3l7.2 7.2l-7.2 7.2l-7.2 -7.2zM246.3 723.2l7.2 7.2l-7.2 7.2l-7.2 -7.2zM247.6 723.8l7.2 7.2l-7.2 7.2l-7.2 -7.2zM248.9 724.3l7.2 7.2l-7.2 7.2l-7.2 -7.2zM250.2 724.5l7.2 7.2l-7.2 7.2l-7.2 -7.2zM251.5 722.5l7.2 7.2l-7.2 7.2l-7.2 -7.2zM252.8 724.3l7.2 7.2l-7.2 7.2l-7.2 -7.2zM254.1 721.4l7.2 7.2l-7.2 7.2l-7.2 -7.2zM255.4 725.9l7.2 7.2l-7.2 7.2l-7.2 -7.2zM256.7 726.2l7.2 7.2l-7.2 7.2l-7.2 -7.2zM258.0 723.8l7.2 7.2l-7.2 7.2l-7.2 -7.2zM259.3 725.7l7.2 7.2l-7.2 7.2l-7.2 -7.2zM260.6 725.6l7.2 7.2l-7.2 7.2l-7.2 -7.2zM261.9 725.7l7.2 7.2l-7.2 7.2l-7.2 -7.2zM263.2 725.3l7.2 7.2l-7.2 7.2l-7.2 -7.2zM264.5 725.7l7.2 7.2l-7.2 7.2l-7.2 -7.2zM265.8 725.4l7.2 7.2l-7.2 7.2l-7.2 -7.2zM267.1 726.4l7.2 7.2l-7.2 7.2l-7.2 -7.2zM268.4 725.8l7.2 7.2l-7.2 7.2l-7.2 -7.2zM269.7 727.3l7.2 7.2l-7.2 7.2l-7.2 -7.2zM271.0 725.9l7.2 7.2l-7.2 7.2l-7.2 -7.2z"/><path fill="#081dc6" d="M117.2 565.8l6.7 13.0h-13.4zM118.7 557.7l6.7 13.0h-13.4zM119.7 548.2l6.7 13.0h-13.4zM122.0 534.8l6.7 13.0h-13.4zM124.0 521.7l6.7 13.0h-13.4zM127.0 510.3l6.7 13.0h-13.4zM128.3 506.8l6.7 13.0h-13.4zM129.6 501.7l6.7 13.0h-13.4zM130.9 494.6l6.7 13.0h-13.4zM132.2 493.2l6.7 13.0h-13.4zM133.5 486.1l6.7 13.0h-13.4zM134.8 484.7l6.7 13.0h-13.4zM136.1 476.6l6.7 13.0h-13.4zM137.4 474.3l6.7 13.0h-13.4zM138.7 471.7l6.7 13.0h-13.4zM140.0 474.4l6.7 13.0h-13.4zM141.2 472.2l6.7 13.0h-13.4zM142.5 473.1l6.7 13.0h-13.4zM143.8 473.9l6.7 13.0h-13.4zM145.1 472.4l6.7 13.0h-13.4zM146.4 474.9l6.7 13.0h-13.4zM147.7 473.4l6.7 13.0h-13.4zM149.0 471.6l6.7 13.0h-13.4zM150.3 472.7l6.7 13.0h-13.4zM151.6 473.6l6.7 13.0h-13.4zM152.9 469.1l6.7 13.0h-13.4zM154.2 472.8l6.7 13.0h-13.4zM155.5 474.0l6.7 13.0h-13.4zM156.8 472.7l6.7 13.0h-13.4zM158.1 474.0l6.7 13.0h-13.4zM159.4 473.8l6.7 13.0h-13.4zM160.7 473.7l6.7 13.0h-13.4zM162.0 469.7l6.7 13.0h-13.4zM163.3 474.3l6.7 13.0h-13.4zM164.6 475.2l6.7 13.0h-13.4zM165.9 475.4l6.7 13.0h-13.4zM167.2 474.1l6.7 13.0h-13.4zM168.5 479.1l6.7 13.0h-13.4zM169.8 481.2l6.7 13.0h-13.4zM171.1 477.4l6.7 13.0h-13.4zM172.4 485.8l6.7 13.0h-13.4zM173.7 485.5l6.7 13.0h-13.4zM175.0 485.2l6.7 13.0h-13.4zM176.3 484.0l6.7 13.0h-13.4zM177.6 491.2l6.7 13.0h-13.4zM178.9 495.3l6.7 13.0h-13.4zM180.2 491.3l6.7 13.0h-13.4zM181.5 494.7l6.7 13.0h-13.4zM182.8 495.8l6.7 13.0h-13.4zM184.1 495.6l6.7 13.0h-13.4zM185.4 497.4l6.7 13.0h-13.4zM186.7 498.6l6.7 13.0h-13.4zM188.0 501.2l6.7 13.0h-13.4zM189.3 499.5l6.7 13.0h-13.4zM190.6 500.4l6.7 13.0h-13.4zM191.9 504.3l6.7 13.0h-13.4zM193.2 506.5l6.7 13.0h-13.4zM194.5 505.8l6.7 13.0h-13.4zM195.8 507.5l6.7 13.0h-13.4zM197.1 511.5l6.7 13.0h-13.4zM198.4 511.8l6.7 13.0h-13.4zM199.7 510.4l6.7 13.0h-13.4zM201.0 513.7l6.7 13.0h-13.4zM202.3 515.2l6.7 13.0h-13.4zM203.6 515.9l6.7 13.0h-13.4zM204.9 517.5l6.7 13.0h-13.4zM206.2 518.7l6.7 13.0h-13.4zM207.5 522.3l6.7 13.0h-13.4zM208.8 519.2l6.7 13.0h-13.4zM210.1 522.4l6.7 13.0h-13.4zM211.4 524.9l6.7 13.0h-13.4zM212.7 523.8l6.7 13.0h-13.4zM214.0 525.8l6.7 13.0h-13.4zM215.3 527.4l6.7 13.0h-13.4zM216.6 527.3l6.7 13.0h-13.4zM217.9 527.1l6.7 13.0h-13.4zM219.2 530.3l6.7 13.0h-13.4zM220.5 530.3l6.7 13.0h-13.4zM221.8 530.8l6.7 13.0h-13.4zM223.1 535.8l6.7 13.0h-13.4zM224.4 536.4l6.7 13.0h-13.4zM225.7 536.2l6.7 13.0h-13.4zM227.0 540.6l6.7 13.0h-13.4zM228.3 540.3l6.7 13.0h-13.4zM229.6 539.9l6.7 13.0h-13.4zM230.9 541.6l6.7 13.0h-13.4zM232.2 543.5l6.7 13.0h-13.4zM233.5 547.9l6.7 13.0h-13.4zM234.8 544.3l6.7 13.0h-13.4zM236.1 547.8l6.7 13.0h-13.4zM237.4 549.0l6.7 13.0h-13.4zM238.7 550.7l6.7 13.0h-13.4zM240.0 554.8l6.7 13.0h-13.4zM241.3 555.9l6.7 13.0h-13.4zM242.6 557.1l6.7 13.0h-13.4zM243.9 554.7l6.7 13.0h-13.4zM245.2 559.4l6.7 13.0h-13.4zM246.5 560.1l6.7 13.0h-13.4zM247.8 561.6l6.7 13.0h-13.4zM249.1 562.0l6.7 13.0h-13.4zM250.4 563.5l6.7 13.0h-13.4zM251.7 565.2l6.7 13.0h-13.4zM253.0 568.5l6.7 13.0h-13.4zM254.3 571.8l6.7 13.0h-13.4zM255.6 568.8l6.7 13.0h-13.4zM256.9 569.7l6.7 13.0h-13.4zM258.2 569.6l6.7 13.0h-13.4zM259.5 572.3l6.7 13.0h-13.4zM260.8 573.9l6.7 13.0h-13.4zM262.0 573.7l6.7 13.0h-13.4zM263.3 577.1l6.7 13.0h-13.4zM264.6 577.5l6.7 13.0h-13.4zM265.9 578.5l6.7 13.0h-13.4zM267.2 578.0l6.7 13.0h-13.4zM268.5 576.9l6.7 13.0h-13.4zM269.8 579.5l6.7 13.0h-13.4zM271.1 580.1l6.7 13.0h-13.4zM272.4 582.2l6.7 13.0h-13.4zM273.7 583.2l6.7 13.0h-13.4zM275.0 585.1l6.7 13.0h-13.4zM276.3 586.0l6.7 13.0h-13.4zM277.6 589.6l6.7 13.0h-13.4zM278.9 589.1l6.7 13.0h-13.4zM280.2 590.3l6.7 13.0h-13.4zM281.5 588.8l6.7 13.0h-13.4zM282.8 590.0l6.7 13.0h-13.4zM284.1 590.5l6.7 13.0h-13.4zM285.4 591.0l6.7 13.0h-13.4zM286.7 594.3l6.7 13.0h-13.4zM288.0 593.5l6.7 13.0h-13.4zM289.3 593.2l6.7 13.0h-13.4zM290.6 596.3l6.7 13.0h-13.4zM291.9 595.8l6.7 13.0h-13.4zM293.2 598.0l6.7 13.0h-13.4zM294.5 600.6l6.7 13.0h-13.4zM295.8 599.2l6.7 13.0h-13.4zM297.1 601.1l6.7 13.0h-13.4zM298.4 600.8l6.7 13.0h-13.4zM299.7 602.2l6.7 13.0h-13.4zM301.0 602.1l6.7 13.0h-13.4zM302.3 605.8l6.7 13.0h-13.4zM303.6 601.5l6.7 13.0h-13.4zM304.9 603.1l6.7 13.0h-13.4zM306.2 605.9l6.7 13.0h-13.4zM307.5 607.4l6.7 13.0h-13.4zM308.8 607.1l6.7 13.0h-13.4zM310.1 607.0l6.7 13.0h-13.4zM311.4 608.1l6.7 13.0h-13.4zM312.7 608.9l6.7 13.0h-13.4zM314.0 612.5l6.7 13.0h-13.4zM315.3 612.3l6.7 13.0h-13.4zM316.6 610.0l6.7 13.0h-13.4zM317.9 612.1l6.7 13.0h-13.4zM319.2 615.0l6.7 13.0h-13.4zM320.5 615.0l6.7 13.0h-13.4zM321.8 616.4l6.7 13.0h-13.4zM323.1 616.6l6.7 13.0h-13.4zM324.4 614.6l6.7 13.0h-13.4zM325.7 616.9l6.7 13.0h-13.4zM327.0 615.9l6.7 13.0h-13.4zM328.3 617.7l6.7 13.0h-13.4zM329.6 620.4l6.7 13.0h-13.4zM330.9 620.0l6.7 13.0h-13.4zM332.2 617.0l6.7 13.0h-13.4zM333.5 621.4l6.7 13.0h-13.4zM334.8 622.4l6.7 13.0h-13.4zM336.1 620.3l6.7 13.0h-13.4zM337.4 622.3l6.7 13.0h-13.4zM338.7 623.1l6.7 13.0h-13.4zM340.0 621.9l6.7 13.0h-13.4zM341.3 626.5l6.7 13.0h-13.4zM342.6 624.5l6.7 13.0h-13.4zM343.9 626.9l6.7 13.0h-13.4zM345.2 628.0l6.7 13.0h-13.4zM346.5 627.9l6.7 13.0h-13.4zM347.8 626.1l6.7 13.0h-13.4zM349.1 628.4l6.7 13.0h-13.4zM350.4 631.1l6.7 13.0h-13.4zM351.7 630.8l6.7 13.0h-13.4zM353.0 628.3l6.7 13.0h-13.4zM354.3 629.5l6.7 13.0h-13.4zM355.6 632.7l6.7 13.0h-13.4zM356.9 629.0l6.7 13.0h-13.4zM358.2 632.9l6.7 13.0h-13.4zM359.5 634.4l6.7 13.0h-13.4zM360.8 633.6l6.7 13.0h-13.4zM362.1 632.8l6.7 13.0h-13.4zM363.4 632.5l6.7 13.0h-13.4zM364.7 633.8l6.7 13.0h-13.4zM366.0 636.1l6.7 13.0h-13.4zM367.3 636.8l6.7 13.0h-13.4zM368.6 638.4l6.7 13.0h-13.4zM369.9 637.2l6.7 13.0h-13.4zM371.2 638.4l6.7 13.0h-13.4zM372.5 637.8l6.7 13.0h-13.4zM373.8 640.2l6.7 13.0h-13.4zM375.1 639.8l6.7 13.0h-13.4zM376.4 640.8l6.7 13.0h-13.4zM377.7 641.7l6.7 13.0h-13.4zM379.0 642.2l6.7 13.0h-13.4zM380.3 642.5l6.7 13.0h-13.4zM381.5 643.2l6.7 13.0h-13.4zM382.8 641.6l6.7 13.0h-13.4zM384.1 642.7l6.7 13.0h-13.4zM385.4 645.0l6.7 13.0h-13.4zM386.7 643.2l6.7 13.0h-13.4zM388.0 644.0l6.7 13.0h-13.4zM389.3 643.1l6.7 13.0h-13.4zM390.6 645.6l6.7 13.0h-13.4zM391.9 646.0l6.7 13.0h-13.4zM393.2 647.0l6.7 13.0h-13.4zM394.5 646.4l6.7 13.0h-13.4zM395.8 646.4l6.7 13.0h-13.4zM397.1 647.2l6.7 13.0h-13.4zM398.4 648.1l6.7 13.0h-13.4zM399.7 647.5l6.7 13.0h-13.4zM401.0 648.5l6.7 13.0h-13.4zM402.3 648.8l6.7 13.0h-13.4zM403.6 650.6l6.7 13.0h-13.4zM404.9 649.6l6.7 13.0h-13.4zM406.2 651.5l6.7 13.0h-13.4zM407.5 651.8l6.7 13.0h-13.4zM408.8 650.9l6.7 13.0h-13.4zM410.1 649.0l6.7 13.0h-13.4zM411.4 650.7l6.7 13.0h-13.4zM412.7 652.4l6.7 13.0h-13.4zM414.0 653.0l6.7 13.0h-13.4zM415.3 652.0l6.7 13.0h-13.4zM416.6 651.9l6.7 13.0h-13.4zM417.9 652.5l6.7 13.0h-13.4zM419.2 654.7l6.7 13.0h-13.4zM420.5 654.6l6.7 13.0h-13.4zM421.8 655.7l6.7 13.0h-13.4zM423.1 656.1l6.7 13.0h-13.4zM424.4 656.8l6.7 13.0h-13.4zM425.7 656.6l6.7 13.0h-13.4zM427.0 658.5l6.7 13.0h-13.4zM428.3 658.1l6.7 13.0h-13.4zM429.6 657.0l6.7 13.0h-13.4zM430.9 658.5l6.7 13.0h-13.4zM432.2 657.6l6.7 13.0h-13.4zM433.5 659.5l6.7 13.0h-13.4zM434.8 659.0l6.7 13.0h-13.4zM436.1 658.7l6.7 13.0h-13.4zM437.4 660.2l6.7 13.0h-13.4zM438.7 660.3l6.7 13.0h-13.4zM440.0 657.9l6.7 13.0h-13.4zM441.3 660.9l6.7 13.0h-13.4zM442.6 661.2l6.7 13.0h-13.4zM443.9 661.5l6.7 13.0h-13.4zM445.2 661.3l6.7 13.0h-13.4zM446.5 661.7l6.7 13.0h-13.4zM447.8 661.1l6.7 13.0h-13.4zM449.1 661.6l6.7 13.0h-13.4zM450.4 663.0l6.7 13.0h-13.4zM451.7 663.2l6.7 13.0h-13.4zM453.0 664.5l6.7 13.0h-13.4zM454.3 664.8l6.7 13.0h-13.4zM455.6 664.5l6.7 13.0h-13.4zM456.9 663.6l6.7 13.0h-13.4zM458.2 664.5l6.7 13.0h-13.4zM459.5 664.2l6.7 13.0h-13.4zM460.8 664.4l6.7 13.0h-13.4zM462.1 665.6l6.7 13.0h-13.4zM463.4 664.0l6.7 13.0h-13.4zM464.7 666.5l6.7 13.0h-13.4zM466.0 666.9l6.7 13.0h-13.4zM467.3 667.0l6.7 13.0h-13.4zM468.6 666.0l6.7 13.0h-13.4zM469.9 667.3l6.7 13.0h-13.4zM471.2 668.1l6.7 13.0h-13.4zM472.5 667.4l6.7 13.0h-13.4zM473.8 667.1l6.7 13.0h-13.4zM475.1 668.4l6.7 13.0h-13.4zM476.4 668.8l6.7 13.0h-13.4zM477.7 668.0l6.7 13.0h-13.4zM479.0 668.4l6.7 13.0h-13.4zM480.3 668.7l6.7 13.0h-13.4zM481.6 670.4l6.7 13.0h-13.4zM482.9 669.8l6.7 13.0h-13.4zM484.2 670.0l6.7 13.0h-13.4zM485.5 672.1l6.7 13.0h-13.4zM486.8 669.9l6.7 13.0h-13.4zM488.1 671.1l6.7 13.0h-13.4zM489.4 671.8l6.7 13.0h-13.4zM490.7 669.9l6.7 13.0h-13.4zM492.0 671.9l6.7 13.0h-13.4zM493.3 672.9l6.7 13.0h-13.4zM494.6 672.7l6.7 13.0h-13.4zM495.9 672.4l6.7 13.0h-13.4zM497.2 672.5l6.7 13.0h-13.4zM498.5 673.5l6.7 13.0h-13.4zM499.8 674.5l6.7 13.0h-13.4zM501.0 674.6l6.7 13.0h-13.4zM502.3 675.0l6.7 13.0h-13.4zM503.6 675.5l6.7 13.0h-13.4zM504.9 674.9l6.7 13.0h-13.4zM506.2 675.6l6.7 13.0h-13.4zM507.5 675.4l6.7 13.0h-13.4zM508.8 676.5l6.7 13.0h-13.4zM510.1 676.8l6.7 13.0h-13.4zM511.4 676.5l6.7 13.0h-13.4zM512.7 676.9l6.7 13.0h-13.4zM514.0 676.0l6.7 13.0h-13.4zM515.3 678.0l6.7 13.0h-13.4zM516.6 677.3l6.7 13.0h-13.4zM517.9 677.8l6.7 13.0h-13.4zM519.2 679.2l6.7 13.0h-13.4zM520.5 677.7l6.7 13.0h-13.4zM521.8 678.5l6.7 13.0h-13.4zM523.1 680.7l6.7 13.0h-13.4zM524.4 678.7l6.7 13.0h-13.4zM525.7 678.7l6.7 13.0h-13.4zM527.0 680.4l6.7 13.0h-13.4zM528.3 678.6l6.7 13.0h-13.4zM529.6 680.2l6.7 13.0h-13.4zM530.9 681.5l6.7 13.0h-13.4zM532.2 680.3l6.7 13.0h-13.4zM533.5 681.3l6.7 13.0h-13.4zM534.8 682.4l6.7 13.0h-13.4zM536.1 683.3l6.7 13.0h-13.4zM537.4 681.5l6.7 13.0h-13.4zM538.7 682.6l6.7 13.0h-13.4zM540.0 681.6l6.7 13.0h-13.4zM541.3 682.1l6.7 13.0h-13.4zM542.6 683.1l6.7 13.0h-13.4zM543.9 683.3l6.7 13.0h-13.4zM545.2 681.7l6.7 13.0h-13.4zM546.5 681.9l6.7 13.0h-13.4zM547.8 683.0l6.7 13.0h-13.4zM549.1 684.1l6.7 13.0h-13.4zM550.4 684.9l6.7 13.0h-13.4zM551.7 684.6l6.7 13.0h-13.4zM553.0 683.2l6.7 13.0h-13.4zM554.3 684.4l6.7 13.0h-13.4zM555.6 685.3l6.7 13.0h-13.4zM556.9 686.3l6.7 13.0h-13.4zM558.2 685.4l6.7 13.0h-13.4zM559.5 686.5l6.7 13.0h-13.4zM560.8 686.0l6.7 13.0h-13.4zM562.1 685.6l6.7 13.0h-13.4zM563.4 685.6l6.7 13.0h-13.4zM564.7 686.6l6.7 13.0h-13.4zM566.0 687.2l6.7 13.0h-13.4zM567.3 687.0l6.7 13.0h-13.4zM568.6 685.9l6.7 13.0h-13.4zM569.9 687.3l6.7 13.0h-13.4zM571.2 689.0l6.7 13.0h-13.4zM572.5 686.8l6.7 13.0h-13.4zM573.8 688.1l6.7 13.0h-13.4zM575.1 685.7l6.7 13.0h-13.4zM576.4 689.2l6.7 13.0h-13.4zM577.7 689.1l6.7 13.0h-13.4zM579.0 689.5l6.7 13.0h-13.4zM580.3 689.2l6.7 13.0h-13.4zM581.6 690.3l6.7 13.0h-13.4zM582.9 691.2l6.7 13.0h-13.4zM584.2 691.9l6.7 13.0h-13.4zM585.5 690.6l6.7 13.0h-13.4zM586.8 691.2l6.7 13.0h-13.4zM588.1 691.4l6.7 13.0h-13.4zM589.4 689.4l6.7 13.0h-13.4zM590.7 690.8l6.7 13.0h-13.4zM592.0 690.8l6.7 13.0h-13.4zM593.3 692.3l6.7 13.0h-13.4zM594.6 691.9l6.7 13.0h-13.4zM595.9 692.5l6.7 13.0h-13.4zM597.2 692.7l6.7 13.0h-13.4zM598.5 692.1l6.7 13.0h-13.4zM599.8 692.4l6.7 13.0h-13.4zM601.1 692.8l6.7 13.0h-13.4zM602.4 693.1l6.7 13.0h-13.4zM603.7 694.6l6.7 13.0h-13.4zM605.0 694.2l6.7 13.0h-13.4zM606.3 693.5l6.7 13.0h-13.4zM607.6 694.3l6.7 13.0h-13.4zM608.9 694.8l6.7 13.0h-13.4zM610.2 694.0l6.7 13.0h-13.4zM611.5 695.3l6.7 13.0h-13.4zM612.8 695.2l6.7 13.0h-13.4zM614.1 694.1l6.7 13.0h-13.4zM615.4 695.3l6.7 13.0h-13.4zM616.7 694.0l6.7 13.0h-13.4zM618.0 695.0l6.7 13.0h-13.4zM619.3 694.9l6.7 13.0h-13.4zM620.5 694.8l6.7 13.0h-13.4zM621.8 697.7l6.7 13.0h-13.4zM623.1 696.2l6.7 13.0h-13.4zM624.4 697.4l6.7 13.0h-13.4zM625.7 696.8l6.7 13.0h-13.4zM627.0 696.7l6.7 13.0h-13.4zM628.3 695.8l6.7 13.0h-13.4zM629.6 697.0l6.7 13.0h-13.4zM630.9 695.8l6.7 13.0h-13.4zM632.2 697.8l6.7 13.0h-13.4zM633.5 697.6l6.7 13.0h-13.4zM634.8 697.6l6.7 13.0h-13.4zM636.1 697.1l6.7 13.0h-13.4zM637.4 698.1l6.7 13.0h-13.4zM638.7 698.8l6.7 13.0h-13.4zM640.0 698.7l6.7 13.0h-13.4zM641.3 699.8l6.7 13.0h-13.4zM642.6 697.7l6.7 13.0h-13.4zM643.9 698.3l6.7 13.0h-13.4zM645.2 698.8l6.7 13.0h-13.4zM646.5 699.1l6.7 13.0h-13.4zM647.8 700.0l6.7 13.0h-13.4zM649.1 700.0l6.7 13.0h-13.4zM650.4 699.2l6.7 13.0h-13.4zM651.7 700.7l6.7 13.0h-13.4zM653.0 700.9l6.7 13.0h-13.4zM654.3 699.1l6.7 13.0h-13.4zM655.6 699.3l6.7 13.0h-13.4zM656.9 700.5l6.7 13.0h-13.4zM658.2 700.5l6.7 13.0h-13.4zM659.5 701.0l6.7 13.0h-13.4zM660.8 700.1l6.7 13.0h-13.4zM662.1 701.8l6.7 13.0h-13.4zM663.4 701.6l6.7 13.0h-13.4zM664.7 701.4l6.7 13.0h-13.4zM666.0 700.8l6.7 13.0h-13.4zM667.3 702.4l6.7 13.0h-13.4zM668.6 702.2l6.7 13.0h-13.4zM669.9 703.0l6.7 13.0h-13.4zM671.2 703.3l6.7 13.0h-13.4zM672.5 703.5l6.7 13.0h-13.4zM673.8 703.0l6.7 13.0h-13.4zM675.1 702.5l6.7 13.0h-13.4zM676.4 704.0l6.7 13.0h-13.4zM677.7 704.1l6.7 13.0h-13.4zM679.0 704.1l6.7 13.0h-13.4zM680.3 703.7l6.7 13.0h-13.4zM681.6 703.4l6.7 13.0h-13.4zM682.9 705.0l6.7 13.0h-13.4zM145.7 461.0l6.7 13.0h-13.4zM156.9 463.5l6.7 13.0h-13.4zM171.4 473.0l6.7 13.0h-13.4zM179.1 487.6l6.7 13.0h-13.4zM192.0 494.4l6.7 13.0h-13.4zM174.7 483.5l6.7 13.0h-13.4zM184.7 492.2l6.7 13.0h-13.4z"/></g><rect x="110.6" y="12.15" width="569.6999999999999" height="381.90000000000003" fill="none" stroke="#000" stroke-width="1.7"/><path d="M110.60 12.15v-8.6M110.60 394.05v8.6M181.81 12.15v-4.6M181.81 394.05v4.6M253.02 12.15v-8.6M253.02 394.05v8.6M324.24 12.15v-4.6M324.24 394.05v4.6M395.45 12.15v-8.6M395.45 394.05v8.6M466.66 12.15v-4.6M466.66 394.05v4.6M537.87 12.15v-8.6M537.87 394.05v8.6M609.09 12.15v-4.6M609.09 394.05v4.6M680.30 12.15v-8.6M680.30 394.05v8.6M110.6 394.05h-8.6M680.3 394.05h8.6M110.6 339.49h-4.6M680.3 339.49h4.6M110.6 284.94h-8.6M680.3 284.94h8.6M110.6 230.38h-4.6M680.3 230.38h4.6M110.6 175.82h-8.6M680.3 175.82h8.6M110.6 121.26h-4.6M680.3 121.26h4.6M110.6 66.71h-8.6M680.3 66.71h8.6M110.6 12.15h-4.6M680.3 12.15h4.6" stroke="#000" stroke-width="1.7" fill="none"/><rect x="110.6" y="454.0" width="569.6999999999999" height="382.0" fill="none" stroke="#000" stroke-width="1.7"/><path d="M110.60 454.0v-8.6M110.60 836.0v8.6M181.81 454.0v-4.6M181.81 836.0v4.6M253.02 454.0v-8.6M253.02 836.0v8.6M324.24 454.0v-4.6M324.24 836.0v4.6M395.45 454.0v-8.6M395.45 836.0v8.6M466.66 454.0v-4.6M466.66 836.0v4.6M537.87 454.0v-8.6M537.87 836.0v8.6M609.09 454.0v-4.6M609.09 836.0v4.6M680.30 454.0v-8.6M680.30 836.0v8.6M110.6 836.00h-8.6M680.3 836.00h8.6M110.6 781.43h-4.6M680.3 781.43h4.6M110.6 726.86h-8.6M680.3 726.86h8.6M110.6 672.29h-4.6M680.3 672.29h4.6M110.6 617.71h-8.6M680.3 617.71h8.6M110.6 563.14h-4.6M680.3 563.14h4.6M110.6 508.57h-8.6M680.3 508.57h8.6M110.6 454.00h-4.6M680.3 454.00h4.6" stroke="#000" stroke-width="1.7" fill="none"/><text transform="translate(95.6 402.1) scale(1.0 1)" font-size="29.5" font-weight="normal" text-anchor="end">0</text><text transform="translate(95.6 292.9) scale(1.0 1)" font-size="29.5" font-weight="normal" text-anchor="end">10</text><text transform="translate(95.6 183.8) scale(1.0 1)" font-size="29.5" font-weight="normal" text-anchor="end">20</text><text transform="translate(95.6 74.7) scale(1.0 1)" font-size="29.5" font-weight="normal" text-anchor="end">30</text><text transform="translate(95.6 844.0) scale(1.0 1)" font-size="29.5" font-weight="normal" text-anchor="end">0</text><text transform="translate(95.6 734.9) scale(1.0 1)" font-size="29.5" font-weight="normal" text-anchor="end">10</text><text transform="translate(95.6 625.7) scale(1.0 1)" font-size="29.5" font-weight="normal" text-anchor="end">20</text><text transform="translate(95.6 516.6) scale(1.0 1)" font-size="29.5" font-weight="normal" text-anchor="end">30</text><text transform="translate(110.6 873.0) scale(1.0 1)" font-size="29.5" font-weight="normal" text-anchor="middle">0</text><text transform="translate(253.0 873.0) scale(1.0 1)" font-size="29.5" font-weight="normal" text-anchor="middle">5</text><text transform="translate(395.4 873.0) scale(1.0 1)" font-size="29.5" font-weight="normal" text-anchor="middle">10</text><text transform="translate(537.9 873.0) scale(1.0 1)" font-size="29.5" font-weight="normal" text-anchor="middle">15</text><text transform="translate(680.3 873.0) scale(1.0 1)" font-size="29.5" font-weight="normal" text-anchor="middle">20</text><text transform="translate(400.8 913.5) scale(1.0 1)" font-size="31.5" font-weight="normal" text-anchor="middle">TOS / h</text><text transform="translate(44.8 202.7) rotate(-90) scale(1.0 1)" font-size="31.5" font-weight="normal" text-anchor="middle">CH<tspan font-size="21.4" dy="9.1">4</tspan><tspan dy="-9.1"> Conversion / %</tspan></text><text transform="translate(44.8 644.5) rotate(-90) scale(1.0 1)" font-size="31.5" font-weight="normal" text-anchor="middle">CO<tspan font-size="21.4" dy="9.1">2</tspan><tspan dy="-9.1"> Conversion / %</tspan></text><text transform="translate(5.0 25.0) scale(1.0 1)" font-size="40" font-weight="bold" text-anchor="start">a</text><text transform="translate(5.0 469.0) scale(1.0 1)" font-size="40" font-weight="bold" text-anchor="start">b</text><path fill="#cd0b0e" d="M500.6 29.200000000000003l7.4 7.4l-7.4 7.4l-7.4 -7.4z"/><text transform="translate(519.0 46.8) scale(1.0 1)" font-size="29" font-weight="normal" text-anchor="start">Ga<tspan font-size="19.7" dy="7.0">47</tspan><tspan dy="-7.0">Co/SiC</tspan></text><circle cx="500.6" cy="79" r="6.3" fill="#ff8108"/><text transform="translate(519.0 89.2) scale(1.0 1)" font-size="29" font-weight="normal" text-anchor="start">Ga<tspan font-size="19.7" dy="7.0">52</tspan><tspan dy="-7.0">Cu/SiC</tspan></text><rect x="494.90000000000003" y="115.8" width="11.4" height="11.4" fill="#0c8318"/><text transform="translate(519.0 131.7) scale(1.0 1)" font-size="29" font-weight="normal" text-anchor="start">Ga<tspan font-size="19.7" dy="7.0">44</tspan><tspan dy="-7.0">Fe/SiC</tspan></text><path fill="#081dc6" d="M500.6 157.0l6.8 11.6h-13.6z"/><text transform="translate(519.0 173.7) scale(1.0 1)" font-size="29" font-weight="normal" text-anchor="start">Ga<tspan font-size="19.7" dy="7.0">45</tspan><tspan dy="-7.0">Ni/SiC</tspan></text></svg></body></html>
